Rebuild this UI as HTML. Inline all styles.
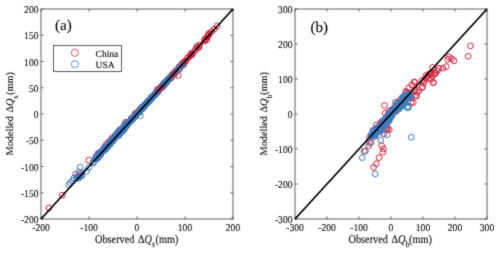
<!DOCTYPE html>
<html><head><meta charset="utf-8"><style>
html,body{margin:0;padding:0;background:#fff;width:500px;height:253px;overflow:hidden}
svg{display:block}
text{font-family:"Liberation Serif",serif;fill:#111;stroke:#111;stroke-width:0.12px;text-rendering:geometricPrecision}
.tk{font-size:9.6px}
.lb{font-size:10.3px}
.pl{font-size:15px;fill:#000}
.lg{font-size:9.5px;fill:#000;stroke:#000;stroke-width:0.1px}
</style></head><body>
<svg width="500" height="253" viewBox="0 0 500 253" stroke-width="1" fill="none">
<defs><filter id="bl" x="0" y="0" width="1" height="1" color-interpolation-filters="sRGB"><feConvolveMatrix order="3" kernelMatrix="1 2 1 2 20 2 1 2 1" divisor="32" edgeMode="duplicate"/></filter><clipPath id="ca"><rect x="41" y="9" width="192" height="210"/></clipPath><clipPath id="cb"><rect x="295" y="9" width="192" height="210"/></clipPath></defs>
<g filter="url(#bl)"><rect x="0" y="0" width="500" height="253" fill="#fff"/>
<path d="M41 219.00h2.5M233 219.00h-2.5" stroke="#5a5a5a"/>
<text transform="translate(38.5,223.00) scale(1,1.08)" text-anchor="end" class="tk">-200</text>
<path d="M41 192.75h2.5M233 192.75h-2.5" stroke="#5a5a5a"/>
<text transform="translate(38.5,196.75) scale(1,1.08)" text-anchor="end" class="tk">-150</text>
<path d="M41 166.50h2.5M233 166.50h-2.5" stroke="#5a5a5a"/>
<text transform="translate(38.5,170.50) scale(1,1.08)" text-anchor="end" class="tk">-100</text>
<path d="M41 140.25h2.5M233 140.25h-2.5" stroke="#5a5a5a"/>
<text transform="translate(38.5,144.25) scale(1,1.08)" text-anchor="end" class="tk">-50</text>
<path d="M41 114.00h2.5M233 114.00h-2.5" stroke="#5a5a5a"/>
<text transform="translate(38.5,118.00) scale(1,1.08)" text-anchor="end" class="tk">0</text>
<path d="M41 87.75h2.5M233 87.75h-2.5" stroke="#5a5a5a"/>
<text transform="translate(38.5,91.75) scale(1,1.08)" text-anchor="end" class="tk">50</text>
<path d="M41 61.50h2.5M233 61.50h-2.5" stroke="#5a5a5a"/>
<text transform="translate(38.5,65.50) scale(1,1.08)" text-anchor="end" class="tk">100</text>
<path d="M41 35.25h2.5M233 35.25h-2.5" stroke="#5a5a5a"/>
<text transform="translate(38.5,39.25) scale(1,1.08)" text-anchor="end" class="tk">150</text>
<path d="M41 9.00h2.5M233 9.00h-2.5" stroke="#5a5a5a"/>
<text transform="translate(38.5,13.00) scale(1,1.08)" text-anchor="end" class="tk">200</text>
<path d="M41.00 219v-2.5M41.00 9v2.5" stroke="#5a5a5a"/>
<text transform="translate(41.00,231) scale(1,1.08)" text-anchor="middle" class="tk">-200</text>
<path d="M89.00 219v-2.5M89.00 9v2.5" stroke="#5a5a5a"/>
<text transform="translate(89.00,231) scale(1,1.08)" text-anchor="middle" class="tk">-100</text>
<path d="M137.00 219v-2.5M137.00 9v2.5" stroke="#5a5a5a"/>
<text transform="translate(137.00,231) scale(1,1.08)" text-anchor="middle" class="tk">0</text>
<path d="M185.00 219v-2.5M185.00 9v2.5" stroke="#5a5a5a"/>
<text transform="translate(185.00,231) scale(1,1.08)" text-anchor="middle" class="tk">100</text>
<path d="M233.00 219v-2.5M233.00 9v2.5" stroke="#5a5a5a"/>
<text transform="translate(233.00,231) scale(1,1.08)" text-anchor="middle" class="tk">200</text>
<rect x="41" y="9" width="192" height="210" fill="none" stroke="#5a5a5a" stroke-width="0.95"/>
<path d="M295 219.00h2.5M487 219.00h-2.5" stroke="#5a5a5a"/>
<text transform="translate(292.5,223.00) scale(1,1.08)" text-anchor="end" class="tk">-300</text>
<path d="M295 184.00h2.5M487 184.00h-2.5" stroke="#5a5a5a"/>
<text transform="translate(292.5,188.00) scale(1,1.08)" text-anchor="end" class="tk">-200</text>
<path d="M295 149.00h2.5M487 149.00h-2.5" stroke="#5a5a5a"/>
<text transform="translate(292.5,153.00) scale(1,1.08)" text-anchor="end" class="tk">-100</text>
<path d="M295 114.00h2.5M487 114.00h-2.5" stroke="#5a5a5a"/>
<text transform="translate(292.5,118.00) scale(1,1.08)" text-anchor="end" class="tk">0</text>
<path d="M295 79.00h2.5M487 79.00h-2.5" stroke="#5a5a5a"/>
<text transform="translate(292.5,83.00) scale(1,1.08)" text-anchor="end" class="tk">100</text>
<path d="M295 44.00h2.5M487 44.00h-2.5" stroke="#5a5a5a"/>
<text transform="translate(292.5,48.00) scale(1,1.08)" text-anchor="end" class="tk">200</text>
<path d="M295 9.00h2.5M487 9.00h-2.5" stroke="#5a5a5a"/>
<text transform="translate(292.5,13.00) scale(1,1.08)" text-anchor="end" class="tk">300</text>
<path d="M295.00 219v-2.5M295.00 9v2.5" stroke="#5a5a5a"/>
<text transform="translate(295.00,231) scale(1,1.08)" text-anchor="middle" class="tk">-300</text>
<path d="M327.00 219v-2.5M327.00 9v2.5" stroke="#5a5a5a"/>
<text transform="translate(327.00,231) scale(1,1.08)" text-anchor="middle" class="tk">-200</text>
<path d="M359.00 219v-2.5M359.00 9v2.5" stroke="#5a5a5a"/>
<text transform="translate(359.00,231) scale(1,1.08)" text-anchor="middle" class="tk">-100</text>
<path d="M391.00 219v-2.5M391.00 9v2.5" stroke="#5a5a5a"/>
<text transform="translate(391.00,231) scale(1,1.08)" text-anchor="middle" class="tk">0</text>
<path d="M423.00 219v-2.5M423.00 9v2.5" stroke="#5a5a5a"/>
<text transform="translate(423.00,231) scale(1,1.08)" text-anchor="middle" class="tk">100</text>
<path d="M455.00 219v-2.5M455.00 9v2.5" stroke="#5a5a5a"/>
<text transform="translate(455.00,231) scale(1,1.08)" text-anchor="middle" class="tk">200</text>
<path d="M487.00 219v-2.5M487.00 9v2.5" stroke="#5a5a5a"/>
<text transform="translate(487.00,231) scale(1,1.08)" text-anchor="middle" class="tk">300</text>
<rect x="295" y="9" width="192" height="210" fill="none" stroke="#5a5a5a" stroke-width="0.95"/>
<g clip-path="url(#ca)"><path d="M51.8 207.9a2.9 2.9 0 1 0 -5.8 0a2.9 2.9 0 1 0 5.8 0M65.1 195.2a2.9 2.9 0 1 0 -5.8 0a2.9 2.9 0 1 0 5.8 0M78.9 174.2a2.9 2.9 0 1 0 -5.8 0a2.9 2.9 0 1 0 5.8 0M83.8 173.5a2.9 2.9 0 1 0 -5.8 0a2.9 2.9 0 1 0 5.8 0M91.7 160.2a2.9 2.9 0 1 0 -5.8 0a2.9 2.9 0 1 0 5.8 0M181.1 75.5a2.9 2.9 0 1 0 -5.8 0a2.9 2.9 0 1 0 5.8 0M220.1 25.9a2.9 2.9 0 1 0 -5.8 0a2.9 2.9 0 1 0 5.8 0M217.0 29.2a2.9 2.9 0 1 0 -5.8 0a2.9 2.9 0 1 0 5.8 0M214.6 31.7a2.9 2.9 0 1 0 -5.8 0a2.9 2.9 0 1 0 5.8 0M212.1 34.2a2.9 2.9 0 1 0 -5.8 0a2.9 2.9 0 1 0 5.8 0M114.4 139.8a2.9 2.9 0 1 0 -5.8 0a2.9 2.9 0 1 0 5.8 0M100.7 153.7a2.9 2.9 0 1 0 -5.8 0a2.9 2.9 0 1 0 5.8 0M122.6 129.7a2.9 2.9 0 1 0 -5.8 0a2.9 2.9 0 1 0 5.8 0M99.7 156.0a2.9 2.9 0 1 0 -5.8 0a2.9 2.9 0 1 0 5.8 0M112.3 141.5a2.9 2.9 0 1 0 -5.8 0a2.9 2.9 0 1 0 5.8 0M127.6 124.2a2.9 2.9 0 1 0 -5.8 0a2.9 2.9 0 1 0 5.8 0M128.8 122.2a2.9 2.9 0 1 0 -5.8 0a2.9 2.9 0 1 0 5.8 0M115.1 138.0a2.9 2.9 0 1 0 -5.8 0a2.9 2.9 0 1 0 5.8 0M107.3 147.0a2.9 2.9 0 1 0 -5.8 0a2.9 2.9 0 1 0 5.8 0M109.5 143.6a2.9 2.9 0 1 0 -5.8 0a2.9 2.9 0 1 0 5.8 0M118.3 135.0a2.9 2.9 0 1 0 -5.8 0a2.9 2.9 0 1 0 5.8 0M121.3 131.8a2.9 2.9 0 1 0 -5.8 0a2.9 2.9 0 1 0 5.8 0M142.0 110.8a2.9 2.9 0 1 0 -5.8 0a2.9 2.9 0 1 0 5.8 0M144.4 107.5a2.9 2.9 0 1 0 -5.8 0a2.9 2.9 0 1 0 5.8 0M143.4 109.0a2.9 2.9 0 1 0 -5.8 0a2.9 2.9 0 1 0 5.8 0M150.7 101.1a2.9 2.9 0 1 0 -5.8 0a2.9 2.9 0 1 0 5.8 0M130.6 122.9a2.9 2.9 0 1 0 -5.8 0a2.9 2.9 0 1 0 5.8 0M134.5 118.0a2.9 2.9 0 1 0 -5.8 0a2.9 2.9 0 1 0 5.8 0M154.1 97.3a2.9 2.9 0 1 0 -5.8 0a2.9 2.9 0 1 0 5.8 0M160.3 89.3a2.9 2.9 0 1 0 -5.8 0a2.9 2.9 0 1 0 5.8 0M137.9 113.9a2.9 2.9 0 1 0 -5.8 0a2.9 2.9 0 1 0 5.8 0M151.9 100.1a2.9 2.9 0 1 0 -5.8 0a2.9 2.9 0 1 0 5.8 0M131.4 122.6a2.9 2.9 0 1 0 -5.8 0a2.9 2.9 0 1 0 5.8 0M139.5 112.7a2.9 2.9 0 1 0 -5.8 0a2.9 2.9 0 1 0 5.8 0M186.3 64.8a2.9 2.9 0 1 0 -5.8 0a2.9 2.9 0 1 0 5.8 0M186.4 63.6a2.9 2.9 0 1 0 -5.8 0a2.9 2.9 0 1 0 5.8 0M188.4 61.2a2.9 2.9 0 1 0 -5.8 0a2.9 2.9 0 1 0 5.8 0M188.6 60.9a2.9 2.9 0 1 0 -5.8 0a2.9 2.9 0 1 0 5.8 0M194.3 54.3a2.9 2.9 0 1 0 -5.8 0a2.9 2.9 0 1 0 5.8 0M178.2 72.3a2.9 2.9 0 1 0 -5.8 0a2.9 2.9 0 1 0 5.8 0M167.1 83.6a2.9 2.9 0 1 0 -5.8 0a2.9 2.9 0 1 0 5.8 0M165.5 87.0a2.9 2.9 0 1 0 -5.8 0a2.9 2.9 0 1 0 5.8 0M211.4 34.5a2.9 2.9 0 1 0 -5.8 0a2.9 2.9 0 1 0 5.8 0M193.7 55.2a2.9 2.9 0 1 0 -5.8 0a2.9 2.9 0 1 0 5.8 0M170.2 79.7a2.9 2.9 0 1 0 -5.8 0a2.9 2.9 0 1 0 5.8 0M165.8 85.5a2.9 2.9 0 1 0 -5.8 0a2.9 2.9 0 1 0 5.8 0M172.3 78.4a2.9 2.9 0 1 0 -5.8 0a2.9 2.9 0 1 0 5.8 0M185.9 63.3a2.9 2.9 0 1 0 -5.8 0a2.9 2.9 0 1 0 5.8 0M184.6 64.4a2.9 2.9 0 1 0 -5.8 0a2.9 2.9 0 1 0 5.8 0M195.3 54.1a2.9 2.9 0 1 0 -5.8 0a2.9 2.9 0 1 0 5.8 0M188.0 61.7a2.9 2.9 0 1 0 -5.8 0a2.9 2.9 0 1 0 5.8 0M177.1 73.9a2.9 2.9 0 1 0 -5.8 0a2.9 2.9 0 1 0 5.8 0M211.9 33.5a2.9 2.9 0 1 0 -5.8 0a2.9 2.9 0 1 0 5.8 0M198.2 50.1a2.9 2.9 0 1 0 -5.8 0a2.9 2.9 0 1 0 5.8 0M178.5 71.5a2.9 2.9 0 1 0 -5.8 0a2.9 2.9 0 1 0 5.8 0M166.0 84.6a2.9 2.9 0 1 0 -5.8 0a2.9 2.9 0 1 0 5.8 0M201.8 47.5a2.9 2.9 0 1 0 -5.8 0a2.9 2.9 0 1 0 5.8 0M181.7 67.2a2.9 2.9 0 1 0 -5.8 0a2.9 2.9 0 1 0 5.8 0M210.7 36.4a2.9 2.9 0 1 0 -5.8 0a2.9 2.9 0 1 0 5.8 0M173.3 77.3a2.9 2.9 0 1 0 -5.8 0a2.9 2.9 0 1 0 5.8 0M209.5 40.0a2.9 2.9 0 1 0 -5.8 0a2.9 2.9 0 1 0 5.8 0M182.5 66.8a2.9 2.9 0 1 0 -5.8 0a2.9 2.9 0 1 0 5.8 0M167.0 85.2a2.9 2.9 0 1 0 -5.8 0a2.9 2.9 0 1 0 5.8 0M176.8 74.5a2.9 2.9 0 1 0 -5.8 0a2.9 2.9 0 1 0 5.8 0M167.7 84.5a2.9 2.9 0 1 0 -5.8 0a2.9 2.9 0 1 0 5.8 0M199.8 46.5a2.9 2.9 0 1 0 -5.8 0a2.9 2.9 0 1 0 5.8 0M168.7 82.3a2.9 2.9 0 1 0 -5.8 0a2.9 2.9 0 1 0 5.8 0M165.6 85.3a2.9 2.9 0 1 0 -5.8 0a2.9 2.9 0 1 0 5.8 0M202.4 45.0a2.9 2.9 0 1 0 -5.8 0a2.9 2.9 0 1 0 5.8 0M184.7 63.9a2.9 2.9 0 1 0 -5.8 0a2.9 2.9 0 1 0 5.8 0M172.4 78.4a2.9 2.9 0 1 0 -5.8 0a2.9 2.9 0 1 0 5.8 0M195.2 53.8a2.9 2.9 0 1 0 -5.8 0a2.9 2.9 0 1 0 5.8 0M168.9 82.6a2.9 2.9 0 1 0 -5.8 0a2.9 2.9 0 1 0 5.8 0M176.2 73.9a2.9 2.9 0 1 0 -5.8 0a2.9 2.9 0 1 0 5.8 0M211.3 35.6a2.9 2.9 0 1 0 -5.8 0a2.9 2.9 0 1 0 5.8 0M207.4 40.7a2.9 2.9 0 1 0 -5.8 0a2.9 2.9 0 1 0 5.8 0M174.0 77.8a2.9 2.9 0 1 0 -5.8 0a2.9 2.9 0 1 0 5.8 0M194.4 53.2a2.9 2.9 0 1 0 -5.8 0a2.9 2.9 0 1 0 5.8 0M167.6 83.0a2.9 2.9 0 1 0 -5.8 0a2.9 2.9 0 1 0 5.8 0M175.8 74.7a2.9 2.9 0 1 0 -5.8 0a2.9 2.9 0 1 0 5.8 0M201.6 46.7a2.9 2.9 0 1 0 -5.8 0a2.9 2.9 0 1 0 5.8 0M166.2 84.5a2.9 2.9 0 1 0 -5.8 0a2.9 2.9 0 1 0 5.8 0M167.6 84.1a2.9 2.9 0 1 0 -5.8 0a2.9 2.9 0 1 0 5.8 0M193.0 56.0a2.9 2.9 0 1 0 -5.8 0a2.9 2.9 0 1 0 5.8 0M182.4 69.3a2.9 2.9 0 1 0 -5.8 0a2.9 2.9 0 1 0 5.8 0M186.7 62.1a2.9 2.9 0 1 0 -5.8 0a2.9 2.9 0 1 0 5.8 0M191.4 57.2a2.9 2.9 0 1 0 -5.8 0a2.9 2.9 0 1 0 5.8 0M170.7 80.5a2.9 2.9 0 1 0 -5.8 0a2.9 2.9 0 1 0 5.8 0M208.1 39.0a2.9 2.9 0 1 0 -5.8 0a2.9 2.9 0 1 0 5.8 0M172.6 78.7a2.9 2.9 0 1 0 -5.8 0a2.9 2.9 0 1 0 5.8 0M199.5 48.1a2.9 2.9 0 1 0 -5.8 0a2.9 2.9 0 1 0 5.8 0M210.4 36.9a2.9 2.9 0 1 0 -5.8 0a2.9 2.9 0 1 0 5.8 0M207.3 40.8a2.9 2.9 0 1 0 -5.8 0a2.9 2.9 0 1 0 5.8 0M168.3 83.3a2.9 2.9 0 1 0 -5.8 0a2.9 2.9 0 1 0 5.8 0M164.5 86.4a2.9 2.9 0 1 0 -5.8 0a2.9 2.9 0 1 0 5.8 0M198.1 50.3a2.9 2.9 0 1 0 -5.8 0a2.9 2.9 0 1 0 5.8 0M175.4 74.5a2.9 2.9 0 1 0 -5.8 0a2.9 2.9 0 1 0 5.8 0M178.0 73.2a2.9 2.9 0 1 0 -5.8 0a2.9 2.9 0 1 0 5.8 0M171.6 79.2a2.9 2.9 0 1 0 -5.8 0a2.9 2.9 0 1 0 5.8 0M174.4 76.4a2.9 2.9 0 1 0 -5.8 0a2.9 2.9 0 1 0 5.8 0M190.5 57.9a2.9 2.9 0 1 0 -5.8 0a2.9 2.9 0 1 0 5.8 0M177.3 73.9a2.9 2.9 0 1 0 -5.8 0a2.9 2.9 0 1 0 5.8 0M208.7 38.6a2.9 2.9 0 1 0 -5.8 0a2.9 2.9 0 1 0 5.8 0M176.2 74.0a2.9 2.9 0 1 0 -5.8 0a2.9 2.9 0 1 0 5.8 0" fill="none" stroke="#d2243f" stroke-width="1.0"/><path d="M83.1 167.1a2.9 2.9 0 1 0 -5.8 0a2.9 2.9 0 1 0 5.8 0M73.2 182.7a2.9 2.9 0 1 0 -5.8 0a2.9 2.9 0 1 0 5.8 0M75.3 180.6a2.9 2.9 0 1 0 -5.8 0a2.9 2.9 0 1 0 5.8 0M71.7 184.9a2.9 2.9 0 1 0 -5.8 0a2.9 2.9 0 1 0 5.8 0M79.6 177.7a2.9 2.9 0 1 0 -5.8 0a2.9 2.9 0 1 0 5.8 0M143.3 115.6a2.9 2.9 0 1 0 -5.8 0a2.9 2.9 0 1 0 5.8 0M76.9 178.0a2.9 2.9 0 1 0 -5.8 0a2.9 2.9 0 1 0 5.8 0M81.9 172.0a2.9 2.9 0 1 0 -5.8 0a2.9 2.9 0 1 0 5.8 0M91.7 167.5a2.9 2.9 0 1 0 -5.8 0a2.9 2.9 0 1 0 5.8 0M84.7 175.7a2.9 2.9 0 1 0 -5.8 0a2.9 2.9 0 1 0 5.8 0M81.3 178.4a2.9 2.9 0 1 0 -5.8 0a2.9 2.9 0 1 0 5.8 0M98.1 158.4a2.9 2.9 0 1 0 -5.8 0a2.9 2.9 0 1 0 5.8 0M96.6 162.4a2.9 2.9 0 1 0 -5.8 0a2.9 2.9 0 1 0 5.8 0M95.8 162.9a2.9 2.9 0 1 0 -5.8 0a2.9 2.9 0 1 0 5.8 0M84.3 175.2a2.9 2.9 0 1 0 -5.8 0a2.9 2.9 0 1 0 5.8 0M100.4 156.4a2.9 2.9 0 1 0 -5.8 0a2.9 2.9 0 1 0 5.8 0M81.9 176.8a2.9 2.9 0 1 0 -5.8 0a2.9 2.9 0 1 0 5.8 0M96.1 162.0a2.9 2.9 0 1 0 -5.8 0a2.9 2.9 0 1 0 5.8 0M89.3 171.3a2.9 2.9 0 1 0 -5.8 0a2.9 2.9 0 1 0 5.8 0M80.3 177.1a2.9 2.9 0 1 0 -5.8 0a2.9 2.9 0 1 0 5.8 0M81.3 176.2a2.9 2.9 0 1 0 -5.8 0a2.9 2.9 0 1 0 5.8 0M83.1 176.5a2.9 2.9 0 1 0 -5.8 0a2.9 2.9 0 1 0 5.8 0M107.1 149.7a2.9 2.9 0 1 0 -5.8 0a2.9 2.9 0 1 0 5.8 0M126.4 129.4a2.9 2.9 0 1 0 -5.8 0a2.9 2.9 0 1 0 5.8 0M104.5 152.0a2.9 2.9 0 1 0 -5.8 0a2.9 2.9 0 1 0 5.8 0M105.5 150.4a2.9 2.9 0 1 0 -5.8 0a2.9 2.9 0 1 0 5.8 0M121.7 132.5a2.9 2.9 0 1 0 -5.8 0a2.9 2.9 0 1 0 5.8 0M105.0 150.7a2.9 2.9 0 1 0 -5.8 0a2.9 2.9 0 1 0 5.8 0M108.8 148.9a2.9 2.9 0 1 0 -5.8 0a2.9 2.9 0 1 0 5.8 0M117.7 136.9a2.9 2.9 0 1 0 -5.8 0a2.9 2.9 0 1 0 5.8 0M99.1 158.1a2.9 2.9 0 1 0 -5.8 0a2.9 2.9 0 1 0 5.8 0M126.2 127.8a2.9 2.9 0 1 0 -5.8 0a2.9 2.9 0 1 0 5.8 0M124.2 129.9a2.9 2.9 0 1 0 -5.8 0a2.9 2.9 0 1 0 5.8 0M123.2 133.2a2.9 2.9 0 1 0 -5.8 0a2.9 2.9 0 1 0 5.8 0M128.9 125.2a2.9 2.9 0 1 0 -5.8 0a2.9 2.9 0 1 0 5.8 0M126.1 129.1a2.9 2.9 0 1 0 -5.8 0a2.9 2.9 0 1 0 5.8 0M114.1 141.5a2.9 2.9 0 1 0 -5.8 0a2.9 2.9 0 1 0 5.8 0M112.9 144.0a2.9 2.9 0 1 0 -5.8 0a2.9 2.9 0 1 0 5.8 0M110.6 146.1a2.9 2.9 0 1 0 -5.8 0a2.9 2.9 0 1 0 5.8 0M102.2 154.3a2.9 2.9 0 1 0 -5.8 0a2.9 2.9 0 1 0 5.8 0M124.4 129.5a2.9 2.9 0 1 0 -5.8 0a2.9 2.9 0 1 0 5.8 0M121.9 135.5a2.9 2.9 0 1 0 -5.8 0a2.9 2.9 0 1 0 5.8 0M116.3 139.1a2.9 2.9 0 1 0 -5.8 0a2.9 2.9 0 1 0 5.8 0M120.5 135.1a2.9 2.9 0 1 0 -5.8 0a2.9 2.9 0 1 0 5.8 0M112.6 142.9a2.9 2.9 0 1 0 -5.8 0a2.9 2.9 0 1 0 5.8 0M115.0 140.0a2.9 2.9 0 1 0 -5.8 0a2.9 2.9 0 1 0 5.8 0M107.3 150.2a2.9 2.9 0 1 0 -5.8 0a2.9 2.9 0 1 0 5.8 0M111.1 144.5a2.9 2.9 0 1 0 -5.8 0a2.9 2.9 0 1 0 5.8 0M103.1 154.3a2.9 2.9 0 1 0 -5.8 0a2.9 2.9 0 1 0 5.8 0M106.1 150.3a2.9 2.9 0 1 0 -5.8 0a2.9 2.9 0 1 0 5.8 0M104.9 151.8a2.9 2.9 0 1 0 -5.8 0a2.9 2.9 0 1 0 5.8 0M119.3 135.6a2.9 2.9 0 1 0 -5.8 0a2.9 2.9 0 1 0 5.8 0M129.6 125.7a2.9 2.9 0 1 0 -5.8 0a2.9 2.9 0 1 0 5.8 0M128.0 125.5a2.9 2.9 0 1 0 -5.8 0a2.9 2.9 0 1 0 5.8 0M99.4 156.6a2.9 2.9 0 1 0 -5.8 0a2.9 2.9 0 1 0 5.8 0M124.8 128.6a2.9 2.9 0 1 0 -5.8 0a2.9 2.9 0 1 0 5.8 0M118.8 135.9a2.9 2.9 0 1 0 -5.8 0a2.9 2.9 0 1 0 5.8 0M126.0 127.8a2.9 2.9 0 1 0 -5.8 0a2.9 2.9 0 1 0 5.8 0M126.8 127.4a2.9 2.9 0 1 0 -5.8 0a2.9 2.9 0 1 0 5.8 0M126.2 128.9a2.9 2.9 0 1 0 -5.8 0a2.9 2.9 0 1 0 5.8 0M110.6 145.5a2.9 2.9 0 1 0 -5.8 0a2.9 2.9 0 1 0 5.8 0M129.9 124.8a2.9 2.9 0 1 0 -5.8 0a2.9 2.9 0 1 0 5.8 0M117.9 137.5a2.9 2.9 0 1 0 -5.8 0a2.9 2.9 0 1 0 5.8 0M118.6 137.2a2.9 2.9 0 1 0 -5.8 0a2.9 2.9 0 1 0 5.8 0M117.5 138.5a2.9 2.9 0 1 0 -5.8 0a2.9 2.9 0 1 0 5.8 0M122.1 133.3a2.9 2.9 0 1 0 -5.8 0a2.9 2.9 0 1 0 5.8 0M109.6 146.7a2.9 2.9 0 1 0 -5.8 0a2.9 2.9 0 1 0 5.8 0M120.2 134.4a2.9 2.9 0 1 0 -5.8 0a2.9 2.9 0 1 0 5.8 0M102.1 154.6a2.9 2.9 0 1 0 -5.8 0a2.9 2.9 0 1 0 5.8 0M119.0 135.9a2.9 2.9 0 1 0 -5.8 0a2.9 2.9 0 1 0 5.8 0M116.5 139.2a2.9 2.9 0 1 0 -5.8 0a2.9 2.9 0 1 0 5.8 0M112.7 143.2a2.9 2.9 0 1 0 -5.8 0a2.9 2.9 0 1 0 5.8 0M109.5 146.5a2.9 2.9 0 1 0 -5.8 0a2.9 2.9 0 1 0 5.8 0M130.5 123.6a2.9 2.9 0 1 0 -5.8 0a2.9 2.9 0 1 0 5.8 0M102.6 154.4a2.9 2.9 0 1 0 -5.8 0a2.9 2.9 0 1 0 5.8 0M117.3 137.3a2.9 2.9 0 1 0 -5.8 0a2.9 2.9 0 1 0 5.8 0M101.5 156.2a2.9 2.9 0 1 0 -5.8 0a2.9 2.9 0 1 0 5.8 0M125.2 129.3a2.9 2.9 0 1 0 -5.8 0a2.9 2.9 0 1 0 5.8 0M99.0 158.6a2.9 2.9 0 1 0 -5.8 0a2.9 2.9 0 1 0 5.8 0M129.2 124.2a2.9 2.9 0 1 0 -5.8 0a2.9 2.9 0 1 0 5.8 0M115.8 141.1a2.9 2.9 0 1 0 -5.8 0a2.9 2.9 0 1 0 5.8 0M108.0 148.1a2.9 2.9 0 1 0 -5.8 0a2.9 2.9 0 1 0 5.8 0M100.6 158.3a2.9 2.9 0 1 0 -5.8 0a2.9 2.9 0 1 0 5.8 0M122.2 132.7a2.9 2.9 0 1 0 -5.8 0a2.9 2.9 0 1 0 5.8 0M107.2 149.8a2.9 2.9 0 1 0 -5.8 0a2.9 2.9 0 1 0 5.8 0M107.6 150.2a2.9 2.9 0 1 0 -5.8 0a2.9 2.9 0 1 0 5.8 0M117.6 138.1a2.9 2.9 0 1 0 -5.8 0a2.9 2.9 0 1 0 5.8 0M107.5 148.2a2.9 2.9 0 1 0 -5.8 0a2.9 2.9 0 1 0 5.8 0M105.2 151.5a2.9 2.9 0 1 0 -5.8 0a2.9 2.9 0 1 0 5.8 0M111.2 144.5a2.9 2.9 0 1 0 -5.8 0a2.9 2.9 0 1 0 5.8 0M101.3 155.5a2.9 2.9 0 1 0 -5.8 0a2.9 2.9 0 1 0 5.8 0M99.3 158.9a2.9 2.9 0 1 0 -5.8 0a2.9 2.9 0 1 0 5.8 0M123.1 131.3a2.9 2.9 0 1 0 -5.8 0a2.9 2.9 0 1 0 5.8 0M115.8 138.7a2.9 2.9 0 1 0 -5.8 0a2.9 2.9 0 1 0 5.8 0M109.3 147.0a2.9 2.9 0 1 0 -5.8 0a2.9 2.9 0 1 0 5.8 0M102.5 153.3a2.9 2.9 0 1 0 -5.8 0a2.9 2.9 0 1 0 5.8 0M125.6 127.7a2.9 2.9 0 1 0 -5.8 0a2.9 2.9 0 1 0 5.8 0M105.0 150.4a2.9 2.9 0 1 0 -5.8 0a2.9 2.9 0 1 0 5.8 0M108.4 148.0a2.9 2.9 0 1 0 -5.8 0a2.9 2.9 0 1 0 5.8 0M102.6 154.0a2.9 2.9 0 1 0 -5.8 0a2.9 2.9 0 1 0 5.8 0M111.0 146.7a2.9 2.9 0 1 0 -5.8 0a2.9 2.9 0 1 0 5.8 0M129.9 123.6a2.9 2.9 0 1 0 -5.8 0a2.9 2.9 0 1 0 5.8 0M100.2 157.2a2.9 2.9 0 1 0 -5.8 0a2.9 2.9 0 1 0 5.8 0M124.3 130.5a2.9 2.9 0 1 0 -5.8 0a2.9 2.9 0 1 0 5.8 0M108.5 146.8a2.9 2.9 0 1 0 -5.8 0a2.9 2.9 0 1 0 5.8 0M102.9 154.5a2.9 2.9 0 1 0 -5.8 0a2.9 2.9 0 1 0 5.8 0M98.7 158.4a2.9 2.9 0 1 0 -5.8 0a2.9 2.9 0 1 0 5.8 0M102.5 152.5a2.9 2.9 0 1 0 -5.8 0a2.9 2.9 0 1 0 5.8 0M114.2 142.0a2.9 2.9 0 1 0 -5.8 0a2.9 2.9 0 1 0 5.8 0M123.9 130.2a2.9 2.9 0 1 0 -5.8 0a2.9 2.9 0 1 0 5.8 0M105.5 151.2a2.9 2.9 0 1 0 -5.8 0a2.9 2.9 0 1 0 5.8 0M129.1 126.4a2.9 2.9 0 1 0 -5.8 0a2.9 2.9 0 1 0 5.8 0M114.8 140.0a2.9 2.9 0 1 0 -5.8 0a2.9 2.9 0 1 0 5.8 0M117.1 138.7a2.9 2.9 0 1 0 -5.8 0a2.9 2.9 0 1 0 5.8 0M117.9 136.4a2.9 2.9 0 1 0 -5.8 0a2.9 2.9 0 1 0 5.8 0M103.1 155.2a2.9 2.9 0 1 0 -5.8 0a2.9 2.9 0 1 0 5.8 0M103.7 154.5a2.9 2.9 0 1 0 -5.8 0a2.9 2.9 0 1 0 5.8 0M115.8 140.0a2.9 2.9 0 1 0 -5.8 0a2.9 2.9 0 1 0 5.8 0M107.8 147.7a2.9 2.9 0 1 0 -5.8 0a2.9 2.9 0 1 0 5.8 0M101.4 155.6a2.9 2.9 0 1 0 -5.8 0a2.9 2.9 0 1 0 5.8 0M99.5 156.1a2.9 2.9 0 1 0 -5.8 0a2.9 2.9 0 1 0 5.8 0M101.9 154.7a2.9 2.9 0 1 0 -5.8 0a2.9 2.9 0 1 0 5.8 0M120.3 132.4a2.9 2.9 0 1 0 -5.8 0a2.9 2.9 0 1 0 5.8 0M125.8 131.4a2.9 2.9 0 1 0 -5.8 0a2.9 2.9 0 1 0 5.8 0M112.8 144.2a2.9 2.9 0 1 0 -5.8 0a2.9 2.9 0 1 0 5.8 0M122.1 134.0a2.9 2.9 0 1 0 -5.8 0a2.9 2.9 0 1 0 5.8 0M107.8 148.4a2.9 2.9 0 1 0 -5.8 0a2.9 2.9 0 1 0 5.8 0M108.7 147.9a2.9 2.9 0 1 0 -5.8 0a2.9 2.9 0 1 0 5.8 0M130.8 124.0a2.9 2.9 0 1 0 -5.8 0a2.9 2.9 0 1 0 5.8 0M123.6 131.0a2.9 2.9 0 1 0 -5.8 0a2.9 2.9 0 1 0 5.8 0M112.9 142.7a2.9 2.9 0 1 0 -5.8 0a2.9 2.9 0 1 0 5.8 0M106.9 149.5a2.9 2.9 0 1 0 -5.8 0a2.9 2.9 0 1 0 5.8 0M108.9 146.6a2.9 2.9 0 1 0 -5.8 0a2.9 2.9 0 1 0 5.8 0M125.9 128.9a2.9 2.9 0 1 0 -5.8 0a2.9 2.9 0 1 0 5.8 0M127.1 129.8a2.9 2.9 0 1 0 -5.8 0a2.9 2.9 0 1 0 5.8 0M122.2 131.2a2.9 2.9 0 1 0 -5.8 0a2.9 2.9 0 1 0 5.8 0M114.1 141.6a2.9 2.9 0 1 0 -5.8 0a2.9 2.9 0 1 0 5.8 0M126.9 126.5a2.9 2.9 0 1 0 -5.8 0a2.9 2.9 0 1 0 5.8 0M115.6 139.6a2.9 2.9 0 1 0 -5.8 0a2.9 2.9 0 1 0 5.8 0M113.4 141.5a2.9 2.9 0 1 0 -5.8 0a2.9 2.9 0 1 0 5.8 0M104.8 152.0a2.9 2.9 0 1 0 -5.8 0a2.9 2.9 0 1 0 5.8 0M124.9 129.8a2.9 2.9 0 1 0 -5.8 0a2.9 2.9 0 1 0 5.8 0M103.8 151.9a2.9 2.9 0 1 0 -5.8 0a2.9 2.9 0 1 0 5.8 0M108.0 147.5a2.9 2.9 0 1 0 -5.8 0a2.9 2.9 0 1 0 5.8 0M127.4 128.1a2.9 2.9 0 1 0 -5.8 0a2.9 2.9 0 1 0 5.8 0M125.3 129.3a2.9 2.9 0 1 0 -5.8 0a2.9 2.9 0 1 0 5.8 0M105.4 151.1a2.9 2.9 0 1 0 -5.8 0a2.9 2.9 0 1 0 5.8 0M112.9 144.1a2.9 2.9 0 1 0 -5.8 0a2.9 2.9 0 1 0 5.8 0M128.4 124.2a2.9 2.9 0 1 0 -5.8 0a2.9 2.9 0 1 0 5.8 0M103.0 153.4a2.9 2.9 0 1 0 -5.8 0a2.9 2.9 0 1 0 5.8 0M125.4 129.1a2.9 2.9 0 1 0 -5.8 0a2.9 2.9 0 1 0 5.8 0M114.5 140.9a2.9 2.9 0 1 0 -5.8 0a2.9 2.9 0 1 0 5.8 0M167.1 83.4a2.9 2.9 0 1 0 -5.8 0a2.9 2.9 0 1 0 5.8 0M135.1 119.0a2.9 2.9 0 1 0 -5.8 0a2.9 2.9 0 1 0 5.8 0M167.8 82.4a2.9 2.9 0 1 0 -5.8 0a2.9 2.9 0 1 0 5.8 0M156.0 96.1a2.9 2.9 0 1 0 -5.8 0a2.9 2.9 0 1 0 5.8 0M163.0 88.3a2.9 2.9 0 1 0 -5.8 0a2.9 2.9 0 1 0 5.8 0M142.3 111.2a2.9 2.9 0 1 0 -5.8 0a2.9 2.9 0 1 0 5.8 0M157.2 95.0a2.9 2.9 0 1 0 -5.8 0a2.9 2.9 0 1 0 5.8 0M137.8 115.8a2.9 2.9 0 1 0 -5.8 0a2.9 2.9 0 1 0 5.8 0M162.9 88.2a2.9 2.9 0 1 0 -5.8 0a2.9 2.9 0 1 0 5.8 0M138.0 116.4a2.9 2.9 0 1 0 -5.8 0a2.9 2.9 0 1 0 5.8 0M166.0 85.6a2.9 2.9 0 1 0 -5.8 0a2.9 2.9 0 1 0 5.8 0M147.1 106.0a2.9 2.9 0 1 0 -5.8 0a2.9 2.9 0 1 0 5.8 0M145.4 107.4a2.9 2.9 0 1 0 -5.8 0a2.9 2.9 0 1 0 5.8 0M143.1 110.1a2.9 2.9 0 1 0 -5.8 0a2.9 2.9 0 1 0 5.8 0M151.3 100.8a2.9 2.9 0 1 0 -5.8 0a2.9 2.9 0 1 0 5.8 0M145.2 108.4a2.9 2.9 0 1 0 -5.8 0a2.9 2.9 0 1 0 5.8 0M163.1 87.9a2.9 2.9 0 1 0 -5.8 0a2.9 2.9 0 1 0 5.8 0M166.6 84.6a2.9 2.9 0 1 0 -5.8 0a2.9 2.9 0 1 0 5.8 0M129.5 125.1a2.9 2.9 0 1 0 -5.8 0a2.9 2.9 0 1 0 5.8 0M166.2 84.8a2.9 2.9 0 1 0 -5.8 0a2.9 2.9 0 1 0 5.8 0M156.5 95.8a2.9 2.9 0 1 0 -5.8 0a2.9 2.9 0 1 0 5.8 0M148.8 104.5a2.9 2.9 0 1 0 -5.8 0a2.9 2.9 0 1 0 5.8 0M164.2 87.1a2.9 2.9 0 1 0 -5.8 0a2.9 2.9 0 1 0 5.8 0M130.7 123.8a2.9 2.9 0 1 0 -5.8 0a2.9 2.9 0 1 0 5.8 0M147.4 105.3a2.9 2.9 0 1 0 -5.8 0a2.9 2.9 0 1 0 5.8 0M145.1 108.6a2.9 2.9 0 1 0 -5.8 0a2.9 2.9 0 1 0 5.8 0M148.7 103.8a2.9 2.9 0 1 0 -5.8 0a2.9 2.9 0 1 0 5.8 0M142.5 110.0a2.9 2.9 0 1 0 -5.8 0a2.9 2.9 0 1 0 5.8 0M138.4 115.8a2.9 2.9 0 1 0 -5.8 0a2.9 2.9 0 1 0 5.8 0M141.2 111.7a2.9 2.9 0 1 0 -5.8 0a2.9 2.9 0 1 0 5.8 0M165.1 86.5a2.9 2.9 0 1 0 -5.8 0a2.9 2.9 0 1 0 5.8 0M131.6 122.5a2.9 2.9 0 1 0 -5.8 0a2.9 2.9 0 1 0 5.8 0M165.1 86.2a2.9 2.9 0 1 0 -5.8 0a2.9 2.9 0 1 0 5.8 0M133.7 121.1a2.9 2.9 0 1 0 -5.8 0a2.9 2.9 0 1 0 5.8 0M148.8 104.7a2.9 2.9 0 1 0 -5.8 0a2.9 2.9 0 1 0 5.8 0M165.6 85.1a2.9 2.9 0 1 0 -5.8 0a2.9 2.9 0 1 0 5.8 0M158.5 93.6a2.9 2.9 0 1 0 -5.8 0a2.9 2.9 0 1 0 5.8 0M164.5 86.8a2.9 2.9 0 1 0 -5.8 0a2.9 2.9 0 1 0 5.8 0M166.5 84.5a2.9 2.9 0 1 0 -5.8 0a2.9 2.9 0 1 0 5.8 0M147.8 104.7a2.9 2.9 0 1 0 -5.8 0a2.9 2.9 0 1 0 5.8 0M167.8 83.2a2.9 2.9 0 1 0 -5.8 0a2.9 2.9 0 1 0 5.8 0M162.6 89.0a2.9 2.9 0 1 0 -5.8 0a2.9 2.9 0 1 0 5.8 0M152.0 101.4a2.9 2.9 0 1 0 -5.8 0a2.9 2.9 0 1 0 5.8 0M152.5 99.9a2.9 2.9 0 1 0 -5.8 0a2.9 2.9 0 1 0 5.8 0M156.5 95.7a2.9 2.9 0 1 0 -5.8 0a2.9 2.9 0 1 0 5.8 0M129.1 125.5a2.9 2.9 0 1 0 -5.8 0a2.9 2.9 0 1 0 5.8 0M142.3 111.5a2.9 2.9 0 1 0 -5.8 0a2.9 2.9 0 1 0 5.8 0M142.9 110.9a2.9 2.9 0 1 0 -5.8 0a2.9 2.9 0 1 0 5.8 0M153.7 99.0a2.9 2.9 0 1 0 -5.8 0a2.9 2.9 0 1 0 5.8 0M141.6 112.6a2.9 2.9 0 1 0 -5.8 0a2.9 2.9 0 1 0 5.8 0M161.5 89.9a2.9 2.9 0 1 0 -5.8 0a2.9 2.9 0 1 0 5.8 0M165.0 87.3a2.9 2.9 0 1 0 -5.8 0a2.9 2.9 0 1 0 5.8 0M129.5 125.4a2.9 2.9 0 1 0 -5.8 0a2.9 2.9 0 1 0 5.8 0M144.5 109.1a2.9 2.9 0 1 0 -5.8 0a2.9 2.9 0 1 0 5.8 0M149.4 103.2a2.9 2.9 0 1 0 -5.8 0a2.9 2.9 0 1 0 5.8 0M168.1 82.7a2.9 2.9 0 1 0 -5.8 0a2.9 2.9 0 1 0 5.8 0M141.8 111.2a2.9 2.9 0 1 0 -5.8 0a2.9 2.9 0 1 0 5.8 0M141.6 112.4a2.9 2.9 0 1 0 -5.8 0a2.9 2.9 0 1 0 5.8 0M141.8 112.3a2.9 2.9 0 1 0 -5.8 0a2.9 2.9 0 1 0 5.8 0M142.6 111.3a2.9 2.9 0 1 0 -5.8 0a2.9 2.9 0 1 0 5.8 0M131.0 123.2a2.9 2.9 0 1 0 -5.8 0a2.9 2.9 0 1 0 5.8 0M157.6 93.7a2.9 2.9 0 1 0 -5.8 0a2.9 2.9 0 1 0 5.8 0M133.0 121.1a2.9 2.9 0 1 0 -5.8 0a2.9 2.9 0 1 0 5.8 0M142.5 111.5a2.9 2.9 0 1 0 -5.8 0a2.9 2.9 0 1 0 5.8 0M164.5 86.8a2.9 2.9 0 1 0 -5.8 0a2.9 2.9 0 1 0 5.8 0M142.5 110.9a2.9 2.9 0 1 0 -5.8 0a2.9 2.9 0 1 0 5.8 0M158.6 93.9a2.9 2.9 0 1 0 -5.8 0a2.9 2.9 0 1 0 5.8 0M165.2 86.4a2.9 2.9 0 1 0 -5.8 0a2.9 2.9 0 1 0 5.8 0M144.6 108.7a2.9 2.9 0 1 0 -5.8 0a2.9 2.9 0 1 0 5.8 0M160.2 91.7a2.9 2.9 0 1 0 -5.8 0a2.9 2.9 0 1 0 5.8 0M135.3 119.4a2.9 2.9 0 1 0 -5.8 0a2.9 2.9 0 1 0 5.8 0M155.4 97.6a2.9 2.9 0 1 0 -5.8 0a2.9 2.9 0 1 0 5.8 0M152.3 101.0a2.9 2.9 0 1 0 -5.8 0a2.9 2.9 0 1 0 5.8 0M143.7 109.9a2.9 2.9 0 1 0 -5.8 0a2.9 2.9 0 1 0 5.8 0M138.4 116.0a2.9 2.9 0 1 0 -5.8 0a2.9 2.9 0 1 0 5.8 0M133.6 121.0a2.9 2.9 0 1 0 -5.8 0a2.9 2.9 0 1 0 5.8 0M150.2 102.9a2.9 2.9 0 1 0 -5.8 0a2.9 2.9 0 1 0 5.8 0M157.1 95.0a2.9 2.9 0 1 0 -5.8 0a2.9 2.9 0 1 0 5.8 0M160.2 92.1a2.9 2.9 0 1 0 -5.8 0a2.9 2.9 0 1 0 5.8 0M167.9 82.4a2.9 2.9 0 1 0 -5.8 0a2.9 2.9 0 1 0 5.8 0M155.5 97.1a2.9 2.9 0 1 0 -5.8 0a2.9 2.9 0 1 0 5.8 0M133.9 120.2a2.9 2.9 0 1 0 -5.8 0a2.9 2.9 0 1 0 5.8 0M139.7 113.9a2.9 2.9 0 1 0 -5.8 0a2.9 2.9 0 1 0 5.8 0M165.5 85.9a2.9 2.9 0 1 0 -5.8 0a2.9 2.9 0 1 0 5.8 0M156.7 95.4a2.9 2.9 0 1 0 -5.8 0a2.9 2.9 0 1 0 5.8 0M154.8 97.8a2.9 2.9 0 1 0 -5.8 0a2.9 2.9 0 1 0 5.8 0M137.2 117.1a2.9 2.9 0 1 0 -5.8 0a2.9 2.9 0 1 0 5.8 0M158.0 94.7a2.9 2.9 0 1 0 -5.8 0a2.9 2.9 0 1 0 5.8 0M150.1 102.4a2.9 2.9 0 1 0 -5.8 0a2.9 2.9 0 1 0 5.8 0M135.2 119.2a2.9 2.9 0 1 0 -5.8 0a2.9 2.9 0 1 0 5.8 0M163.2 87.9a2.9 2.9 0 1 0 -5.8 0a2.9 2.9 0 1 0 5.8 0M145.5 107.5a2.9 2.9 0 1 0 -5.8 0a2.9 2.9 0 1 0 5.8 0M164.1 87.8a2.9 2.9 0 1 0 -5.8 0a2.9 2.9 0 1 0 5.8 0M148.7 103.8a2.9 2.9 0 1 0 -5.8 0a2.9 2.9 0 1 0 5.8 0M148.2 105.2a2.9 2.9 0 1 0 -5.8 0a2.9 2.9 0 1 0 5.8 0M152.6 99.8a2.9 2.9 0 1 0 -5.8 0a2.9 2.9 0 1 0 5.8 0M146.6 107.5a2.9 2.9 0 1 0 -5.8 0a2.9 2.9 0 1 0 5.8 0M167.6 83.0a2.9 2.9 0 1 0 -5.8 0a2.9 2.9 0 1 0 5.8 0M138.7 115.1a2.9 2.9 0 1 0 -5.8 0a2.9 2.9 0 1 0 5.8 0M142.1 111.4a2.9 2.9 0 1 0 -5.8 0a2.9 2.9 0 1 0 5.8 0M164.6 86.5a2.9 2.9 0 1 0 -5.8 0a2.9 2.9 0 1 0 5.8 0M168.3 82.2a2.9 2.9 0 1 0 -5.8 0a2.9 2.9 0 1 0 5.8 0M153.4 99.2a2.9 2.9 0 1 0 -5.8 0a2.9 2.9 0 1 0 5.8 0M146.9 106.2a2.9 2.9 0 1 0 -5.8 0a2.9 2.9 0 1 0 5.8 0M147.3 105.6a2.9 2.9 0 1 0 -5.8 0a2.9 2.9 0 1 0 5.8 0M161.3 90.9a2.9 2.9 0 1 0 -5.8 0a2.9 2.9 0 1 0 5.8 0M145.3 108.5a2.9 2.9 0 1 0 -5.8 0a2.9 2.9 0 1 0 5.8 0M135.7 119.0a2.9 2.9 0 1 0 -5.8 0a2.9 2.9 0 1 0 5.8 0M167.2 84.5a2.9 2.9 0 1 0 -5.8 0a2.9 2.9 0 1 0 5.8 0M167.7 83.3a2.9 2.9 0 1 0 -5.8 0a2.9 2.9 0 1 0 5.8 0M151.8 101.1a2.9 2.9 0 1 0 -5.8 0a2.9 2.9 0 1 0 5.8 0M137.6 116.4a2.9 2.9 0 1 0 -5.8 0a2.9 2.9 0 1 0 5.8 0M159.6 93.0a2.9 2.9 0 1 0 -5.8 0a2.9 2.9 0 1 0 5.8 0M156.7 95.6a2.9 2.9 0 1 0 -5.8 0a2.9 2.9 0 1 0 5.8 0M156.3 96.3a2.9 2.9 0 1 0 -5.8 0a2.9 2.9 0 1 0 5.8 0M146.4 105.9a2.9 2.9 0 1 0 -5.8 0a2.9 2.9 0 1 0 5.8 0M135.5 118.0a2.9 2.9 0 1 0 -5.8 0a2.9 2.9 0 1 0 5.8 0M134.0 121.0a2.9 2.9 0 1 0 -5.8 0a2.9 2.9 0 1 0 5.8 0M164.3 87.3a2.9 2.9 0 1 0 -5.8 0a2.9 2.9 0 1 0 5.8 0M152.0 100.9a2.9 2.9 0 1 0 -5.8 0a2.9 2.9 0 1 0 5.8 0M165.5 85.5a2.9 2.9 0 1 0 -5.8 0a2.9 2.9 0 1 0 5.8 0M138.2 115.2a2.9 2.9 0 1 0 -5.8 0a2.9 2.9 0 1 0 5.8 0M134.1 118.8a2.9 2.9 0 1 0 -5.8 0a2.9 2.9 0 1 0 5.8 0M155.3 97.5a2.9 2.9 0 1 0 -5.8 0a2.9 2.9 0 1 0 5.8 0M160.7 91.5a2.9 2.9 0 1 0 -5.8 0a2.9 2.9 0 1 0 5.8 0M153.3 98.9a2.9 2.9 0 1 0 -5.8 0a2.9 2.9 0 1 0 5.8 0M161.5 90.4a2.9 2.9 0 1 0 -5.8 0a2.9 2.9 0 1 0 5.8 0M154.2 98.7a2.9 2.9 0 1 0 -5.8 0a2.9 2.9 0 1 0 5.8 0M144.8 108.2a2.9 2.9 0 1 0 -5.8 0a2.9 2.9 0 1 0 5.8 0M160.2 92.5a2.9 2.9 0 1 0 -5.8 0a2.9 2.9 0 1 0 5.8 0M142.1 112.3a2.9 2.9 0 1 0 -5.8 0a2.9 2.9 0 1 0 5.8 0M143.5 109.0a2.9 2.9 0 1 0 -5.8 0a2.9 2.9 0 1 0 5.8 0M155.3 96.8a2.9 2.9 0 1 0 -5.8 0a2.9 2.9 0 1 0 5.8 0M137.8 116.0a2.9 2.9 0 1 0 -5.8 0a2.9 2.9 0 1 0 5.8 0M155.7 96.5a2.9 2.9 0 1 0 -5.8 0a2.9 2.9 0 1 0 5.8 0M131.4 122.5a2.9 2.9 0 1 0 -5.8 0a2.9 2.9 0 1 0 5.8 0M156.5 95.8a2.9 2.9 0 1 0 -5.8 0a2.9 2.9 0 1 0 5.8 0M138.5 115.7a2.9 2.9 0 1 0 -5.8 0a2.9 2.9 0 1 0 5.8 0M139.0 115.1a2.9 2.9 0 1 0 -5.8 0a2.9 2.9 0 1 0 5.8 0M138.2 115.7a2.9 2.9 0 1 0 -5.8 0a2.9 2.9 0 1 0 5.8 0M160.9 90.7a2.9 2.9 0 1 0 -5.8 0a2.9 2.9 0 1 0 5.8 0M149.7 103.3a2.9 2.9 0 1 0 -5.8 0a2.9 2.9 0 1 0 5.8 0M154.9 96.9a2.9 2.9 0 1 0 -5.8 0a2.9 2.9 0 1 0 5.8 0M150.2 102.8a2.9 2.9 0 1 0 -5.8 0a2.9 2.9 0 1 0 5.8 0M159.6 92.1a2.9 2.9 0 1 0 -5.8 0a2.9 2.9 0 1 0 5.8 0M154.1 99.0a2.9 2.9 0 1 0 -5.8 0a2.9 2.9 0 1 0 5.8 0M160.9 90.1a2.9 2.9 0 1 0 -5.8 0a2.9 2.9 0 1 0 5.8 0M137.6 116.1a2.9 2.9 0 1 0 -5.8 0a2.9 2.9 0 1 0 5.8 0M143.2 110.7a2.9 2.9 0 1 0 -5.8 0a2.9 2.9 0 1 0 5.8 0M152.3 100.0a2.9 2.9 0 1 0 -5.8 0a2.9 2.9 0 1 0 5.8 0M152.4 100.4a2.9 2.9 0 1 0 -5.8 0a2.9 2.9 0 1 0 5.8 0M154.9 97.1a2.9 2.9 0 1 0 -5.8 0a2.9 2.9 0 1 0 5.8 0M166.1 85.2a2.9 2.9 0 1 0 -5.8 0a2.9 2.9 0 1 0 5.8 0M163.0 88.6a2.9 2.9 0 1 0 -5.8 0a2.9 2.9 0 1 0 5.8 0M164.1 87.0a2.9 2.9 0 1 0 -5.8 0a2.9 2.9 0 1 0 5.8 0M145.8 107.9a2.9 2.9 0 1 0 -5.8 0a2.9 2.9 0 1 0 5.8 0M131.2 122.9a2.9 2.9 0 1 0 -5.8 0a2.9 2.9 0 1 0 5.8 0M133.8 120.7a2.9 2.9 0 1 0 -5.8 0a2.9 2.9 0 1 0 5.8 0M153.6 98.4a2.9 2.9 0 1 0 -5.8 0a2.9 2.9 0 1 0 5.8 0M152.9 99.5a2.9 2.9 0 1 0 -5.8 0a2.9 2.9 0 1 0 5.8 0M169.1 82.4a2.9 2.9 0 1 0 -5.8 0a2.9 2.9 0 1 0 5.8 0M185.2 65.3a2.9 2.9 0 1 0 -5.8 0a2.9 2.9 0 1 0 5.8 0M172.1 78.9a2.9 2.9 0 1 0 -5.8 0a2.9 2.9 0 1 0 5.8 0M179.1 70.5a2.9 2.9 0 1 0 -5.8 0a2.9 2.9 0 1 0 5.8 0M172.8 78.3a2.9 2.9 0 1 0 -5.8 0a2.9 2.9 0 1 0 5.8 0M182.0 68.6a2.9 2.9 0 1 0 -5.8 0a2.9 2.9 0 1 0 5.8 0M169.1 82.0a2.9 2.9 0 1 0 -5.8 0a2.9 2.9 0 1 0 5.8 0M173.2 76.6a2.9 2.9 0 1 0 -5.8 0a2.9 2.9 0 1 0 5.8 0M171.8 79.0a2.9 2.9 0 1 0 -5.8 0a2.9 2.9 0 1 0 5.8 0M170.2 81.7a2.9 2.9 0 1 0 -5.8 0a2.9 2.9 0 1 0 5.8 0M177.5 73.2a2.9 2.9 0 1 0 -5.8 0a2.9 2.9 0 1 0 5.8 0M179.5 71.1a2.9 2.9 0 1 0 -5.8 0a2.9 2.9 0 1 0 5.8 0M169.4 82.0a2.9 2.9 0 1 0 -5.8 0a2.9 2.9 0 1 0 5.8 0M170.8 80.2a2.9 2.9 0 1 0 -5.8 0a2.9 2.9 0 1 0 5.8 0M186.2 64.8a2.9 2.9 0 1 0 -5.8 0a2.9 2.9 0 1 0 5.8 0M174.9 75.0a2.9 2.9 0 1 0 -5.8 0a2.9 2.9 0 1 0 5.8 0M178.2 71.7a2.9 2.9 0 1 0 -5.8 0a2.9 2.9 0 1 0 5.8 0M169.4 82.5a2.9 2.9 0 1 0 -5.8 0a2.9 2.9 0 1 0 5.8 0M178.3 72.4a2.9 2.9 0 1 0 -5.8 0a2.9 2.9 0 1 0 5.8 0M168.9 82.7a2.9 2.9 0 1 0 -5.8 0a2.9 2.9 0 1 0 5.8 0M183.8 66.5a2.9 2.9 0 1 0 -5.8 0a2.9 2.9 0 1 0 5.8 0M175.6 75.1a2.9 2.9 0 1 0 -5.8 0a2.9 2.9 0 1 0 5.8 0" fill="none" stroke="#3f7bbd" stroke-width="1.0"/><path d="M161.0 90.6a2.9 2.9 0 1 0 -5.8 0a2.9 2.9 0 1 0 5.8 0M175.8 74.4a2.9 2.9 0 1 0 -5.8 0a2.9 2.9 0 1 0 5.8 0M163.8 87.6a2.9 2.9 0 1 0 -5.8 0a2.9 2.9 0 1 0 5.8 0M177.4 72.7a2.9 2.9 0 1 0 -5.8 0a2.9 2.9 0 1 0 5.8 0M164.2 87.5a2.9 2.9 0 1 0 -5.8 0a2.9 2.9 0 1 0 5.8 0" fill="none" stroke="#d2243f" stroke-width="1.0"/></g>
<g clip-path="url(#cb)"><path d="M411.7 87.7a2.9 2.9 0 1 0 -5.8 0a2.9 2.9 0 1 0 5.8 0M384.5 125.3a2.9 2.9 0 1 0 -5.8 0a2.9 2.9 0 1 0 5.8 0M404.0 105.3a2.9 2.9 0 1 0 -5.8 0a2.9 2.9 0 1 0 5.8 0M384.4 121.8a2.9 2.9 0 1 0 -5.8 0a2.9 2.9 0 1 0 5.8 0M388.5 120.9a2.9 2.9 0 1 0 -5.8 0a2.9 2.9 0 1 0 5.8 0M396.9 109.1a2.9 2.9 0 1 0 -5.8 0a2.9 2.9 0 1 0 5.8 0M379.4 125.0a2.9 2.9 0 1 0 -5.8 0a2.9 2.9 0 1 0 5.8 0M394.9 109.7a2.9 2.9 0 1 0 -5.8 0a2.9 2.9 0 1 0 5.8 0M399.6 107.2a2.9 2.9 0 1 0 -5.8 0a2.9 2.9 0 1 0 5.8 0M384.0 126.8a2.9 2.9 0 1 0 -5.8 0a2.9 2.9 0 1 0 5.8 0M411.3 97.8a2.9 2.9 0 1 0 -5.8 0a2.9 2.9 0 1 0 5.8 0M404.6 103.7a2.9 2.9 0 1 0 -5.8 0a2.9 2.9 0 1 0 5.8 0M418.0 90.0a2.9 2.9 0 1 0 -5.8 0a2.9 2.9 0 1 0 5.8 0M392.2 111.2a2.9 2.9 0 1 0 -5.8 0a2.9 2.9 0 1 0 5.8 0M402.3 105.3a2.9 2.9 0 1 0 -5.8 0a2.9 2.9 0 1 0 5.8 0M384.7 125.3a2.9 2.9 0 1 0 -5.8 0a2.9 2.9 0 1 0 5.8 0M398.4 109.0a2.9 2.9 0 1 0 -5.8 0a2.9 2.9 0 1 0 5.8 0M398.9 111.5a2.9 2.9 0 1 0 -5.8 0a2.9 2.9 0 1 0 5.8 0M403.8 101.5a2.9 2.9 0 1 0 -5.8 0a2.9 2.9 0 1 0 5.8 0M391.6 114.0a2.9 2.9 0 1 0 -5.8 0a2.9 2.9 0 1 0 5.8 0M410.4 94.6a2.9 2.9 0 1 0 -5.8 0a2.9 2.9 0 1 0 5.8 0M383.4 123.2a2.9 2.9 0 1 0 -5.8 0a2.9 2.9 0 1 0 5.8 0M382.2 126.5a2.9 2.9 0 1 0 -5.8 0a2.9 2.9 0 1 0 5.8 0M408.9 92.9a2.9 2.9 0 1 0 -5.8 0a2.9 2.9 0 1 0 5.8 0M393.5 115.2a2.9 2.9 0 1 0 -5.8 0a2.9 2.9 0 1 0 5.8 0M390.8 114.7a2.9 2.9 0 1 0 -5.8 0a2.9 2.9 0 1 0 5.8 0M410.3 97.3a2.9 2.9 0 1 0 -5.8 0a2.9 2.9 0 1 0 5.8 0M384.8 123.8a2.9 2.9 0 1 0 -5.8 0a2.9 2.9 0 1 0 5.8 0M410.2 96.8a2.9 2.9 0 1 0 -5.8 0a2.9 2.9 0 1 0 5.8 0M391.9 120.6a2.9 2.9 0 1 0 -5.8 0a2.9 2.9 0 1 0 5.8 0M384.6 145.7a2.9 2.9 0 1 0 -5.8 0a2.9 2.9 0 1 0 5.8 0M386.4 148.9a2.9 2.9 0 1 0 -5.8 0a2.9 2.9 0 1 0 5.8 0M385.7 152.2a2.9 2.9 0 1 0 -5.8 0a2.9 2.9 0 1 0 5.8 0M382.0 157.6a2.9 2.9 0 1 0 -5.8 0a2.9 2.9 0 1 0 5.8 0M379.2 163.7a2.9 2.9 0 1 0 -5.8 0a2.9 2.9 0 1 0 5.8 0M376.4 167.4a2.9 2.9 0 1 0 -5.8 0a2.9 2.9 0 1 0 5.8 0M371.6 145.7a2.9 2.9 0 1 0 -5.8 0a2.9 2.9 0 1 0 5.8 0M373.8 142.4a2.9 2.9 0 1 0 -5.8 0a2.9 2.9 0 1 0 5.8 0M367.2 151.1a2.9 2.9 0 1 0 -5.8 0a2.9 2.9 0 1 0 5.8 0M386.8 133.7a2.9 2.9 0 1 0 -5.8 0a2.9 2.9 0 1 0 5.8 0M390.1 129.3a2.9 2.9 0 1 0 -5.8 0a2.9 2.9 0 1 0 5.8 0M372.4 138.1a2.9 2.9 0 1 0 -5.8 0a2.9 2.9 0 1 0 5.8 0M375.9 130.5a2.9 2.9 0 1 0 -5.8 0a2.9 2.9 0 1 0 5.8 0M388.2 113.2a2.9 2.9 0 1 0 -5.8 0a2.9 2.9 0 1 0 5.8 0M392.1 129.8a2.9 2.9 0 1 0 -5.8 0a2.9 2.9 0 1 0 5.8 0M387.4 105.5a2.9 2.9 0 1 0 -5.8 0a2.9 2.9 0 1 0 5.8 0M398.4 102.5a2.9 2.9 0 1 0 -5.8 0a2.9 2.9 0 1 0 5.8 0M409.0 91.6a2.9 2.9 0 1 0 -5.8 0a2.9 2.9 0 1 0 5.8 0M412.1 93.2a2.9 2.9 0 1 0 -5.8 0a2.9 2.9 0 1 0 5.8 0M414.5 97.9a2.9 2.9 0 1 0 -5.8 0a2.9 2.9 0 1 0 5.8 0M419.3 96.3a2.9 2.9 0 1 0 -5.8 0a2.9 2.9 0 1 0 5.8 0M416.1 102.6a2.9 2.9 0 1 0 -5.8 0a2.9 2.9 0 1 0 5.8 0M420.1 92.4a2.9 2.9 0 1 0 -5.8 0a2.9 2.9 0 1 0 5.8 0M390.0 127.2a2.9 2.9 0 1 0 -5.8 0a2.9 2.9 0 1 0 5.8 0M388.7 129.6a2.9 2.9 0 1 0 -5.8 0a2.9 2.9 0 1 0 5.8 0M417.1 81.9a2.9 2.9 0 1 0 -5.8 0a2.9 2.9 0 1 0 5.8 0M414.8 85.0a2.9 2.9 0 1 0 -5.8 0a2.9 2.9 0 1 0 5.8 0M409.2 92.1a2.9 2.9 0 1 0 -5.8 0a2.9 2.9 0 1 0 5.8 0M407.6 95.3a2.9 2.9 0 1 0 -5.8 0a2.9 2.9 0 1 0 5.8 0M411.6 97.7a2.9 2.9 0 1 0 -5.8 0a2.9 2.9 0 1 0 5.8 0M414.0 102.4a2.9 2.9 0 1 0 -5.8 0a2.9 2.9 0 1 0 5.8 0M418.7 95.3a2.9 2.9 0 1 0 -5.8 0a2.9 2.9 0 1 0 5.8 0M421.9 90.6a2.9 2.9 0 1 0 -5.8 0a2.9 2.9 0 1 0 5.8 0M425.0 87.4a2.9 2.9 0 1 0 -5.8 0a2.9 2.9 0 1 0 5.8 0M426.6 83.4a2.9 2.9 0 1 0 -5.8 0a2.9 2.9 0 1 0 5.8 0M431.4 78.7a2.9 2.9 0 1 0 -5.8 0a2.9 2.9 0 1 0 5.8 0M435.3 75.5a2.9 2.9 0 1 0 -5.8 0a2.9 2.9 0 1 0 5.8 0M436.1 82.6a2.9 2.9 0 1 0 -5.8 0a2.9 2.9 0 1 0 5.8 0M437.7 73.2a2.9 2.9 0 1 0 -5.8 0a2.9 2.9 0 1 0 5.8 0M433.7 73.2a2.9 2.9 0 1 0 -5.8 0a2.9 2.9 0 1 0 5.8 0M429.0 75.5a2.9 2.9 0 1 0 -5.8 0a2.9 2.9 0 1 0 5.8 0M440.1 70.8a2.9 2.9 0 1 0 -5.8 0a2.9 2.9 0 1 0 5.8 0M452.1 57.1a2.9 2.9 0 1 0 -5.8 0a2.9 2.9 0 1 0 5.8 0M454.5 58.7a2.9 2.9 0 1 0 -5.8 0a2.9 2.9 0 1 0 5.8 0M456.9 60.8a2.9 2.9 0 1 0 -5.8 0a2.9 2.9 0 1 0 5.8 0M450.6 59.5a2.9 2.9 0 1 0 -5.8 0a2.9 2.9 0 1 0 5.8 0M435.5 67.4a2.9 2.9 0 1 0 -5.8 0a2.9 2.9 0 1 0 5.8 0M441.9 68.2a2.9 2.9 0 1 0 -5.8 0a2.9 2.9 0 1 0 5.8 0M445.8 68.2a2.9 2.9 0 1 0 -5.8 0a2.9 2.9 0 1 0 5.8 0M449.0 66.6a2.9 2.9 0 1 0 -5.8 0a2.9 2.9 0 1 0 5.8 0M432.4 73.7a2.9 2.9 0 1 0 -5.8 0a2.9 2.9 0 1 0 5.8 0M437.1 74.5a2.9 2.9 0 1 0 -5.8 0a2.9 2.9 0 1 0 5.8 0M430.8 76.1a2.9 2.9 0 1 0 -5.8 0a2.9 2.9 0 1 0 5.8 0M436.3 82.4a2.9 2.9 0 1 0 -5.8 0a2.9 2.9 0 1 0 5.8 0M434.0 79.2a2.9 2.9 0 1 0 -5.8 0a2.9 2.9 0 1 0 5.8 0M426.9 80.8a2.9 2.9 0 1 0 -5.8 0a2.9 2.9 0 1 0 5.8 0M425.3 87.2a2.9 2.9 0 1 0 -5.8 0a2.9 2.9 0 1 0 5.8 0M429.2 77.7a2.9 2.9 0 1 0 -5.8 0a2.9 2.9 0 1 0 5.8 0M438.7 72.9a2.9 2.9 0 1 0 -5.8 0a2.9 2.9 0 1 0 5.8 0M473.4 45.9a2.9 2.9 0 1 0 -5.8 0a2.9 2.9 0 1 0 5.8 0M471.1 56.3a2.9 2.9 0 1 0 -5.8 0a2.9 2.9 0 1 0 5.8 0M424.6 80.5a2.9 2.9 0 1 0 -5.8 0a2.9 2.9 0 1 0 5.8 0M417.7 82.4a2.9 2.9 0 1 0 -5.8 0a2.9 2.9 0 1 0 5.8 0M402.9 100.0a2.9 2.9 0 1 0 -5.8 0a2.9 2.9 0 1 0 5.8 0M400.9 104.0a2.9 2.9 0 1 0 -5.8 0a2.9 2.9 0 1 0 5.8 0M394.9 110.0a2.9 2.9 0 1 0 -5.8 0a2.9 2.9 0 1 0 5.8 0" fill="none" stroke="#d2243f" stroke-width="1.0"/><path d="M378.1 173.9a2.9 2.9 0 1 0 -5.8 0a2.9 2.9 0 1 0 5.8 0M390.1 134.8a2.9 2.9 0 1 0 -5.8 0a2.9 2.9 0 1 0 5.8 0M365.1 157.6a2.9 2.9 0 1 0 -5.8 0a2.9 2.9 0 1 0 5.8 0M368.3 151.1a2.9 2.9 0 1 0 -5.8 0a2.9 2.9 0 1 0 5.8 0M383.6 140.2a2.9 2.9 0 1 0 -5.8 0a2.9 2.9 0 1 0 5.8 0M372.4 143.0a2.9 2.9 0 1 0 -5.8 0a2.9 2.9 0 1 0 5.8 0M414.2 137.3a2.9 2.9 0 1 0 -5.8 0a2.9 2.9 0 1 0 5.8 0M411.4 107.4a2.9 2.9 0 1 0 -5.8 0a2.9 2.9 0 1 0 5.8 0M410.6 101.9a2.9 2.9 0 1 0 -5.8 0a2.9 2.9 0 1 0 5.8 0M406.1 98.5a2.9 2.9 0 1 0 -5.8 0a2.9 2.9 0 1 0 5.8 0M404.5 101.6a2.9 2.9 0 1 0 -5.8 0a2.9 2.9 0 1 0 5.8 0M410.8 106.4a2.9 2.9 0 1 0 -5.8 0a2.9 2.9 0 1 0 5.8 0M410.4 107.8a2.9 2.9 0 1 0 -5.8 0a2.9 2.9 0 1 0 5.8 0M377.8 134.4a2.9 2.9 0 1 0 -5.8 0a2.9 2.9 0 1 0 5.8 0M383.1 129.9a2.9 2.9 0 1 0 -5.8 0a2.9 2.9 0 1 0 5.8 0M377.7 132.9a2.9 2.9 0 1 0 -5.8 0a2.9 2.9 0 1 0 5.8 0M384.0 129.6a2.9 2.9 0 1 0 -5.8 0a2.9 2.9 0 1 0 5.8 0M382.4 128.5a2.9 2.9 0 1 0 -5.8 0a2.9 2.9 0 1 0 5.8 0M380.4 130.6a2.9 2.9 0 1 0 -5.8 0a2.9 2.9 0 1 0 5.8 0M382.3 126.0a2.9 2.9 0 1 0 -5.8 0a2.9 2.9 0 1 0 5.8 0M377.7 132.4a2.9 2.9 0 1 0 -5.8 0a2.9 2.9 0 1 0 5.8 0M375.6 130.5a2.9 2.9 0 1 0 -5.8 0a2.9 2.9 0 1 0 5.8 0M385.2 124.0a2.9 2.9 0 1 0 -5.8 0a2.9 2.9 0 1 0 5.8 0M388.1 122.5a2.9 2.9 0 1 0 -5.8 0a2.9 2.9 0 1 0 5.8 0M379.9 131.5a2.9 2.9 0 1 0 -5.8 0a2.9 2.9 0 1 0 5.8 0M380.8 127.2a2.9 2.9 0 1 0 -5.8 0a2.9 2.9 0 1 0 5.8 0M379.1 129.5a2.9 2.9 0 1 0 -5.8 0a2.9 2.9 0 1 0 5.8 0M377.0 134.1a2.9 2.9 0 1 0 -5.8 0a2.9 2.9 0 1 0 5.8 0M389.2 121.9a2.9 2.9 0 1 0 -5.8 0a2.9 2.9 0 1 0 5.8 0M382.4 130.0a2.9 2.9 0 1 0 -5.8 0a2.9 2.9 0 1 0 5.8 0M382.4 129.0a2.9 2.9 0 1 0 -5.8 0a2.9 2.9 0 1 0 5.8 0M376.1 132.2a2.9 2.9 0 1 0 -5.8 0a2.9 2.9 0 1 0 5.8 0M378.0 132.6a2.9 2.9 0 1 0 -5.8 0a2.9 2.9 0 1 0 5.8 0M386.0 123.4a2.9 2.9 0 1 0 -5.8 0a2.9 2.9 0 1 0 5.8 0M386.2 120.2a2.9 2.9 0 1 0 -5.8 0a2.9 2.9 0 1 0 5.8 0M386.1 124.3a2.9 2.9 0 1 0 -5.8 0a2.9 2.9 0 1 0 5.8 0M386.9 125.8a2.9 2.9 0 1 0 -5.8 0a2.9 2.9 0 1 0 5.8 0M378.2 136.1a2.9 2.9 0 1 0 -5.8 0a2.9 2.9 0 1 0 5.8 0M377.7 133.2a2.9 2.9 0 1 0 -5.8 0a2.9 2.9 0 1 0 5.8 0M388.1 121.0a2.9 2.9 0 1 0 -5.8 0a2.9 2.9 0 1 0 5.8 0M380.9 131.3a2.9 2.9 0 1 0 -5.8 0a2.9 2.9 0 1 0 5.8 0M383.6 131.2a2.9 2.9 0 1 0 -5.8 0a2.9 2.9 0 1 0 5.8 0M378.9 128.8a2.9 2.9 0 1 0 -5.8 0a2.9 2.9 0 1 0 5.8 0M374.2 135.3a2.9 2.9 0 1 0 -5.8 0a2.9 2.9 0 1 0 5.8 0M389.0 119.8a2.9 2.9 0 1 0 -5.8 0a2.9 2.9 0 1 0 5.8 0M383.3 129.6a2.9 2.9 0 1 0 -5.8 0a2.9 2.9 0 1 0 5.8 0M386.0 124.4a2.9 2.9 0 1 0 -5.8 0a2.9 2.9 0 1 0 5.8 0M379.0 133.8a2.9 2.9 0 1 0 -5.8 0a2.9 2.9 0 1 0 5.8 0M384.9 127.1a2.9 2.9 0 1 0 -5.8 0a2.9 2.9 0 1 0 5.8 0M377.2 133.5a2.9 2.9 0 1 0 -5.8 0a2.9 2.9 0 1 0 5.8 0M388.1 120.9a2.9 2.9 0 1 0 -5.8 0a2.9 2.9 0 1 0 5.8 0M380.6 131.6a2.9 2.9 0 1 0 -5.8 0a2.9 2.9 0 1 0 5.8 0M376.8 135.4a2.9 2.9 0 1 0 -5.8 0a2.9 2.9 0 1 0 5.8 0M375.3 135.2a2.9 2.9 0 1 0 -5.8 0a2.9 2.9 0 1 0 5.8 0M381.8 131.8a2.9 2.9 0 1 0 -5.8 0a2.9 2.9 0 1 0 5.8 0M385.9 126.3a2.9 2.9 0 1 0 -5.8 0a2.9 2.9 0 1 0 5.8 0M390.8 122.4a2.9 2.9 0 1 0 -5.8 0a2.9 2.9 0 1 0 5.8 0M378.9 128.2a2.9 2.9 0 1 0 -5.8 0a2.9 2.9 0 1 0 5.8 0M383.9 127.2a2.9 2.9 0 1 0 -5.8 0a2.9 2.9 0 1 0 5.8 0M388.9 123.0a2.9 2.9 0 1 0 -5.8 0a2.9 2.9 0 1 0 5.8 0M378.5 132.7a2.9 2.9 0 1 0 -5.8 0a2.9 2.9 0 1 0 5.8 0M387.8 122.2a2.9 2.9 0 1 0 -5.8 0a2.9 2.9 0 1 0 5.8 0M386.7 123.3a2.9 2.9 0 1 0 -5.8 0a2.9 2.9 0 1 0 5.8 0M388.0 125.5a2.9 2.9 0 1 0 -5.8 0a2.9 2.9 0 1 0 5.8 0M375.5 135.7a2.9 2.9 0 1 0 -5.8 0a2.9 2.9 0 1 0 5.8 0M378.9 132.7a2.9 2.9 0 1 0 -5.8 0a2.9 2.9 0 1 0 5.8 0M376.6 133.2a2.9 2.9 0 1 0 -5.8 0a2.9 2.9 0 1 0 5.8 0M376.8 136.4a2.9 2.9 0 1 0 -5.8 0a2.9 2.9 0 1 0 5.8 0M388.1 119.3a2.9 2.9 0 1 0 -5.8 0a2.9 2.9 0 1 0 5.8 0M386.7 125.1a2.9 2.9 0 1 0 -5.8 0a2.9 2.9 0 1 0 5.8 0M389.2 120.9a2.9 2.9 0 1 0 -5.8 0a2.9 2.9 0 1 0 5.8 0M382.8 128.2a2.9 2.9 0 1 0 -5.8 0a2.9 2.9 0 1 0 5.8 0M378.2 133.4a2.9 2.9 0 1 0 -5.8 0a2.9 2.9 0 1 0 5.8 0M387.0 122.6a2.9 2.9 0 1 0 -5.8 0a2.9 2.9 0 1 0 5.8 0M385.5 128.4a2.9 2.9 0 1 0 -5.8 0a2.9 2.9 0 1 0 5.8 0M382.6 131.0a2.9 2.9 0 1 0 -5.8 0a2.9 2.9 0 1 0 5.8 0M380.2 132.4a2.9 2.9 0 1 0 -5.8 0a2.9 2.9 0 1 0 5.8 0M383.1 128.2a2.9 2.9 0 1 0 -5.8 0a2.9 2.9 0 1 0 5.8 0M373.6 135.3a2.9 2.9 0 1 0 -5.8 0a2.9 2.9 0 1 0 5.8 0M385.0 125.4a2.9 2.9 0 1 0 -5.8 0a2.9 2.9 0 1 0 5.8 0M383.8 127.1a2.9 2.9 0 1 0 -5.8 0a2.9 2.9 0 1 0 5.8 0M383.9 125.6a2.9 2.9 0 1 0 -5.8 0a2.9 2.9 0 1 0 5.8 0M379.6 133.3a2.9 2.9 0 1 0 -5.8 0a2.9 2.9 0 1 0 5.8 0M404.6 102.1a2.9 2.9 0 1 0 -5.8 0a2.9 2.9 0 1 0 5.8 0M412.4 94.9a2.9 2.9 0 1 0 -5.8 0a2.9 2.9 0 1 0 5.8 0M392.1 116.6a2.9 2.9 0 1 0 -5.8 0a2.9 2.9 0 1 0 5.8 0M406.3 101.4a2.9 2.9 0 1 0 -5.8 0a2.9 2.9 0 1 0 5.8 0M391.2 118.0a2.9 2.9 0 1 0 -5.8 0a2.9 2.9 0 1 0 5.8 0M407.5 102.0a2.9 2.9 0 1 0 -5.8 0a2.9 2.9 0 1 0 5.8 0M396.5 108.3a2.9 2.9 0 1 0 -5.8 0a2.9 2.9 0 1 0 5.8 0M391.7 120.3a2.9 2.9 0 1 0 -5.8 0a2.9 2.9 0 1 0 5.8 0M398.7 106.5a2.9 2.9 0 1 0 -5.8 0a2.9 2.9 0 1 0 5.8 0M398.5 110.0a2.9 2.9 0 1 0 -5.8 0a2.9 2.9 0 1 0 5.8 0M394.3 113.2a2.9 2.9 0 1 0 -5.8 0a2.9 2.9 0 1 0 5.8 0M406.2 101.1a2.9 2.9 0 1 0 -5.8 0a2.9 2.9 0 1 0 5.8 0M407.7 98.4a2.9 2.9 0 1 0 -5.8 0a2.9 2.9 0 1 0 5.8 0M394.1 112.9a2.9 2.9 0 1 0 -5.8 0a2.9 2.9 0 1 0 5.8 0M401.8 108.0a2.9 2.9 0 1 0 -5.8 0a2.9 2.9 0 1 0 5.8 0M408.9 95.3a2.9 2.9 0 1 0 -5.8 0a2.9 2.9 0 1 0 5.8 0M394.7 112.9a2.9 2.9 0 1 0 -5.8 0a2.9 2.9 0 1 0 5.8 0M389.7 119.3a2.9 2.9 0 1 0 -5.8 0a2.9 2.9 0 1 0 5.8 0M403.2 103.2a2.9 2.9 0 1 0 -5.8 0a2.9 2.9 0 1 0 5.8 0M413.3 96.0a2.9 2.9 0 1 0 -5.8 0a2.9 2.9 0 1 0 5.8 0M408.7 98.4a2.9 2.9 0 1 0 -5.8 0a2.9 2.9 0 1 0 5.8 0M408.8 95.3a2.9 2.9 0 1 0 -5.8 0a2.9 2.9 0 1 0 5.8 0M389.9 119.7a2.9 2.9 0 1 0 -5.8 0a2.9 2.9 0 1 0 5.8 0M390.6 117.9a2.9 2.9 0 1 0 -5.8 0a2.9 2.9 0 1 0 5.8 0M400.1 109.6a2.9 2.9 0 1 0 -5.8 0a2.9 2.9 0 1 0 5.8 0M392.3 120.0a2.9 2.9 0 1 0 -5.8 0a2.9 2.9 0 1 0 5.8 0M398.3 106.7a2.9 2.9 0 1 0 -5.8 0a2.9 2.9 0 1 0 5.8 0M400.4 107.3a2.9 2.9 0 1 0 -5.8 0a2.9 2.9 0 1 0 5.8 0M393.5 115.6a2.9 2.9 0 1 0 -5.8 0a2.9 2.9 0 1 0 5.8 0M403.6 104.6a2.9 2.9 0 1 0 -5.8 0a2.9 2.9 0 1 0 5.8 0M404.4 105.1a2.9 2.9 0 1 0 -5.8 0a2.9 2.9 0 1 0 5.8 0M396.2 109.9a2.9 2.9 0 1 0 -5.8 0a2.9 2.9 0 1 0 5.8 0M398.5 108.7a2.9 2.9 0 1 0 -5.8 0a2.9 2.9 0 1 0 5.8 0M392.2 117.2a2.9 2.9 0 1 0 -5.8 0a2.9 2.9 0 1 0 5.8 0M402.9 107.5a2.9 2.9 0 1 0 -5.8 0a2.9 2.9 0 1 0 5.8 0M392.6 114.4a2.9 2.9 0 1 0 -5.8 0a2.9 2.9 0 1 0 5.8 0M395.5 110.9a2.9 2.9 0 1 0 -5.8 0a2.9 2.9 0 1 0 5.8 0M394.5 113.0a2.9 2.9 0 1 0 -5.8 0a2.9 2.9 0 1 0 5.8 0M398.2 109.5a2.9 2.9 0 1 0 -5.8 0a2.9 2.9 0 1 0 5.8 0M412.0 94.9a2.9 2.9 0 1 0 -5.8 0a2.9 2.9 0 1 0 5.8 0M404.5 102.0a2.9 2.9 0 1 0 -5.8 0a2.9 2.9 0 1 0 5.8 0M402.4 106.9a2.9 2.9 0 1 0 -5.8 0a2.9 2.9 0 1 0 5.8 0M397.7 111.0a2.9 2.9 0 1 0 -5.8 0a2.9 2.9 0 1 0 5.8 0M394.3 113.2a2.9 2.9 0 1 0 -5.8 0a2.9 2.9 0 1 0 5.8 0M395.3 114.6a2.9 2.9 0 1 0 -5.8 0a2.9 2.9 0 1 0 5.8 0M405.5 98.6a2.9 2.9 0 1 0 -5.8 0a2.9 2.9 0 1 0 5.8 0M402.4 103.7a2.9 2.9 0 1 0 -5.8 0a2.9 2.9 0 1 0 5.8 0M400.6 106.9a2.9 2.9 0 1 0 -5.8 0a2.9 2.9 0 1 0 5.8 0M405.4 103.8a2.9 2.9 0 1 0 -5.8 0a2.9 2.9 0 1 0 5.8 0M409.1 96.5a2.9 2.9 0 1 0 -5.8 0a2.9 2.9 0 1 0 5.8 0M394.7 115.4a2.9 2.9 0 1 0 -5.8 0a2.9 2.9 0 1 0 5.8 0M394.1 112.2a2.9 2.9 0 1 0 -5.8 0a2.9 2.9 0 1 0 5.8 0M405.2 102.2a2.9 2.9 0 1 0 -5.8 0a2.9 2.9 0 1 0 5.8 0M398.5 109.1a2.9 2.9 0 1 0 -5.8 0a2.9 2.9 0 1 0 5.8 0M388.4 119.6a2.9 2.9 0 1 0 -5.8 0a2.9 2.9 0 1 0 5.8 0M401.8 108.7a2.9 2.9 0 1 0 -5.8 0a2.9 2.9 0 1 0 5.8 0M409.3 97.0a2.9 2.9 0 1 0 -5.8 0a2.9 2.9 0 1 0 5.8 0M390.6 116.2a2.9 2.9 0 1 0 -5.8 0a2.9 2.9 0 1 0 5.8 0M388.1 120.4a2.9 2.9 0 1 0 -5.8 0a2.9 2.9 0 1 0 5.8 0M410.6 96.5a2.9 2.9 0 1 0 -5.8 0a2.9 2.9 0 1 0 5.8 0M401.0 106.6a2.9 2.9 0 1 0 -5.8 0a2.9 2.9 0 1 0 5.8 0M410.0 97.2a2.9 2.9 0 1 0 -5.8 0a2.9 2.9 0 1 0 5.8 0M406.5 99.7a2.9 2.9 0 1 0 -5.8 0a2.9 2.9 0 1 0 5.8 0M390.3 117.7a2.9 2.9 0 1 0 -5.8 0a2.9 2.9 0 1 0 5.8 0M398.4 106.8a2.9 2.9 0 1 0 -5.8 0a2.9 2.9 0 1 0 5.8 0M398.8 107.6a2.9 2.9 0 1 0 -5.8 0a2.9 2.9 0 1 0 5.8 0M404.7 102.6a2.9 2.9 0 1 0 -5.8 0a2.9 2.9 0 1 0 5.8 0M397.2 108.3a2.9 2.9 0 1 0 -5.8 0a2.9 2.9 0 1 0 5.8 0M405.3 106.0a2.9 2.9 0 1 0 -5.8 0a2.9 2.9 0 1 0 5.8 0M406.9 97.5a2.9 2.9 0 1 0 -5.8 0a2.9 2.9 0 1 0 5.8 0M408.2 99.3a2.9 2.9 0 1 0 -5.8 0a2.9 2.9 0 1 0 5.8 0M390.4 117.2a2.9 2.9 0 1 0 -5.8 0a2.9 2.9 0 1 0 5.8 0M389.7 117.6a2.9 2.9 0 1 0 -5.8 0a2.9 2.9 0 1 0 5.8 0M408.9 98.1a2.9 2.9 0 1 0 -5.8 0a2.9 2.9 0 1 0 5.8 0M393.3 115.9a2.9 2.9 0 1 0 -5.8 0a2.9 2.9 0 1 0 5.8 0M395.1 113.8a2.9 2.9 0 1 0 -5.8 0a2.9 2.9 0 1 0 5.8 0M407.3 102.7a2.9 2.9 0 1 0 -5.8 0a2.9 2.9 0 1 0 5.8 0M394.2 116.4a2.9 2.9 0 1 0 -5.8 0a2.9 2.9 0 1 0 5.8 0M393.3 113.9a2.9 2.9 0 1 0 -5.8 0a2.9 2.9 0 1 0 5.8 0M411.3 94.8a2.9 2.9 0 1 0 -5.8 0a2.9 2.9 0 1 0 5.8 0M401.9 107.0a2.9 2.9 0 1 0 -5.8 0a2.9 2.9 0 1 0 5.8 0M405.9 100.9a2.9 2.9 0 1 0 -5.8 0a2.9 2.9 0 1 0 5.8 0M404.1 102.8a2.9 2.9 0 1 0 -5.8 0a2.9 2.9 0 1 0 5.8 0M391.2 116.9a2.9 2.9 0 1 0 -5.8 0a2.9 2.9 0 1 0 5.8 0M407.5 99.5a2.9 2.9 0 1 0 -5.8 0a2.9 2.9 0 1 0 5.8 0M393.5 115.9a2.9 2.9 0 1 0 -5.8 0a2.9 2.9 0 1 0 5.8 0M395.3 113.9a2.9 2.9 0 1 0 -5.8 0a2.9 2.9 0 1 0 5.8 0M394.2 116.4a2.9 2.9 0 1 0 -5.8 0a2.9 2.9 0 1 0 5.8 0M395.1 112.7a2.9 2.9 0 1 0 -5.8 0a2.9 2.9 0 1 0 5.8 0M398.9 104.9a2.9 2.9 0 1 0 -5.8 0a2.9 2.9 0 1 0 5.8 0M410.5 96.0a2.9 2.9 0 1 0 -5.8 0a2.9 2.9 0 1 0 5.8 0M400.1 105.2a2.9 2.9 0 1 0 -5.8 0a2.9 2.9 0 1 0 5.8 0M410.7 96.7a2.9 2.9 0 1 0 -5.8 0a2.9 2.9 0 1 0 5.8 0M407.1 99.0a2.9 2.9 0 1 0 -5.8 0a2.9 2.9 0 1 0 5.8 0M411.6 96.4a2.9 2.9 0 1 0 -5.8 0a2.9 2.9 0 1 0 5.8 0M389.2 119.5a2.9 2.9 0 1 0 -5.8 0a2.9 2.9 0 1 0 5.8 0M397.5 109.0a2.9 2.9 0 1 0 -5.8 0a2.9 2.9 0 1 0 5.8 0M398.6 109.8a2.9 2.9 0 1 0 -5.8 0a2.9 2.9 0 1 0 5.8 0M401.1 106.3a2.9 2.9 0 1 0 -5.8 0a2.9 2.9 0 1 0 5.8 0M399.6 107.2a2.9 2.9 0 1 0 -5.8 0a2.9 2.9 0 1 0 5.8 0M410.8 94.9a2.9 2.9 0 1 0 -5.8 0a2.9 2.9 0 1 0 5.8 0M407.2 100.8a2.9 2.9 0 1 0 -5.8 0a2.9 2.9 0 1 0 5.8 0M408.5 99.6a2.9 2.9 0 1 0 -5.8 0a2.9 2.9 0 1 0 5.8 0M392.3 116.8a2.9 2.9 0 1 0 -5.8 0a2.9 2.9 0 1 0 5.8 0M404.9 102.8a2.9 2.9 0 1 0 -5.8 0a2.9 2.9 0 1 0 5.8 0M391.1 118.4a2.9 2.9 0 1 0 -5.8 0a2.9 2.9 0 1 0 5.8 0M389.1 117.9a2.9 2.9 0 1 0 -5.8 0a2.9 2.9 0 1 0 5.8 0M401.5 109.0a2.9 2.9 0 1 0 -5.8 0a2.9 2.9 0 1 0 5.8 0M402.4 105.2a2.9 2.9 0 1 0 -5.8 0a2.9 2.9 0 1 0 5.8 0M400.5 108.0a2.9 2.9 0 1 0 -5.8 0a2.9 2.9 0 1 0 5.8 0M397.9 109.2a2.9 2.9 0 1 0 -5.8 0a2.9 2.9 0 1 0 5.8 0M408.6 99.0a2.9 2.9 0 1 0 -5.8 0a2.9 2.9 0 1 0 5.8 0M391.9 119.1a2.9 2.9 0 1 0 -5.8 0a2.9 2.9 0 1 0 5.8 0M390.0 120.7a2.9 2.9 0 1 0 -5.8 0a2.9 2.9 0 1 0 5.8 0M398.2 107.7a2.9 2.9 0 1 0 -5.8 0a2.9 2.9 0 1 0 5.8 0M399.2 108.5a2.9 2.9 0 1 0 -5.8 0a2.9 2.9 0 1 0 5.8 0M412.8 97.2a2.9 2.9 0 1 0 -5.8 0a2.9 2.9 0 1 0 5.8 0M405.1 101.7a2.9 2.9 0 1 0 -5.8 0a2.9 2.9 0 1 0 5.8 0M408.3 99.0a2.9 2.9 0 1 0 -5.8 0a2.9 2.9 0 1 0 5.8 0M402.7 104.1a2.9 2.9 0 1 0 -5.8 0a2.9 2.9 0 1 0 5.8 0M390.2 119.0a2.9 2.9 0 1 0 -5.8 0a2.9 2.9 0 1 0 5.8 0M402.5 105.6a2.9 2.9 0 1 0 -5.8 0a2.9 2.9 0 1 0 5.8 0M405.7 100.4a2.9 2.9 0 1 0 -5.8 0a2.9 2.9 0 1 0 5.8 0M391.5 117.1a2.9 2.9 0 1 0 -5.8 0a2.9 2.9 0 1 0 5.8 0M397.0 109.7a2.9 2.9 0 1 0 -5.8 0a2.9 2.9 0 1 0 5.8 0M399.0 108.9a2.9 2.9 0 1 0 -5.8 0a2.9 2.9 0 1 0 5.8 0M395.6 110.5a2.9 2.9 0 1 0 -5.8 0a2.9 2.9 0 1 0 5.8 0M394.3 113.0a2.9 2.9 0 1 0 -5.8 0a2.9 2.9 0 1 0 5.8 0M398.9 109.0a2.9 2.9 0 1 0 -5.8 0a2.9 2.9 0 1 0 5.8 0M394.4 116.2a2.9 2.9 0 1 0 -5.8 0a2.9 2.9 0 1 0 5.8 0M404.6 105.3a2.9 2.9 0 1 0 -5.8 0a2.9 2.9 0 1 0 5.8 0M387.4 122.0a2.9 2.9 0 1 0 -5.8 0a2.9 2.9 0 1 0 5.8 0M394.6 114.6a2.9 2.9 0 1 0 -5.8 0a2.9 2.9 0 1 0 5.8 0M400.6 108.8a2.9 2.9 0 1 0 -5.8 0a2.9 2.9 0 1 0 5.8 0M401.3 108.2a2.9 2.9 0 1 0 -5.8 0a2.9 2.9 0 1 0 5.8 0M408.8 99.8a2.9 2.9 0 1 0 -5.8 0a2.9 2.9 0 1 0 5.8 0M405.6 99.7a2.9 2.9 0 1 0 -5.8 0a2.9 2.9 0 1 0 5.8 0M391.9 117.6a2.9 2.9 0 1 0 -5.8 0a2.9 2.9 0 1 0 5.8 0M395.4 110.9a2.9 2.9 0 1 0 -5.8 0a2.9 2.9 0 1 0 5.8 0M403.6 105.8a2.9 2.9 0 1 0 -5.8 0a2.9 2.9 0 1 0 5.8 0M389.6 117.7a2.9 2.9 0 1 0 -5.8 0a2.9 2.9 0 1 0 5.8 0M396.6 109.3a2.9 2.9 0 1 0 -5.8 0a2.9 2.9 0 1 0 5.8 0M391.2 116.1a2.9 2.9 0 1 0 -5.8 0a2.9 2.9 0 1 0 5.8 0M410.3 96.6a2.9 2.9 0 1 0 -5.8 0a2.9 2.9 0 1 0 5.8 0M401.2 103.6a2.9 2.9 0 1 0 -5.8 0a2.9 2.9 0 1 0 5.8 0M392.5 116.6a2.9 2.9 0 1 0 -5.8 0a2.9 2.9 0 1 0 5.8 0M392.2 115.0a2.9 2.9 0 1 0 -5.8 0a2.9 2.9 0 1 0 5.8 0M400.3 108.6a2.9 2.9 0 1 0 -5.8 0a2.9 2.9 0 1 0 5.8 0M406.8 102.3a2.9 2.9 0 1 0 -5.8 0a2.9 2.9 0 1 0 5.8 0M400.9 108.2a2.9 2.9 0 1 0 -5.8 0a2.9 2.9 0 1 0 5.8 0M394.0 114.3a2.9 2.9 0 1 0 -5.8 0a2.9 2.9 0 1 0 5.8 0M405.6 102.4a2.9 2.9 0 1 0 -5.8 0a2.9 2.9 0 1 0 5.8 0M406.9 100.0a2.9 2.9 0 1 0 -5.8 0a2.9 2.9 0 1 0 5.8 0M409.9 96.8a2.9 2.9 0 1 0 -5.8 0a2.9 2.9 0 1 0 5.8 0M392.4 117.3a2.9 2.9 0 1 0 -5.8 0a2.9 2.9 0 1 0 5.8 0M390.6 118.2a2.9 2.9 0 1 0 -5.8 0a2.9 2.9 0 1 0 5.8 0M392.1 113.4a2.9 2.9 0 1 0 -5.8 0a2.9 2.9 0 1 0 5.8 0M405.6 100.1a2.9 2.9 0 1 0 -5.8 0a2.9 2.9 0 1 0 5.8 0M406.2 100.0a2.9 2.9 0 1 0 -5.8 0a2.9 2.9 0 1 0 5.8 0M388.9 118.6a2.9 2.9 0 1 0 -5.8 0a2.9 2.9 0 1 0 5.8 0M406.3 96.8a2.9 2.9 0 1 0 -5.8 0a2.9 2.9 0 1 0 5.8 0M408.4 99.0a2.9 2.9 0 1 0 -5.8 0a2.9 2.9 0 1 0 5.8 0M402.8 105.4a2.9 2.9 0 1 0 -5.8 0a2.9 2.9 0 1 0 5.8 0M387.9 120.9a2.9 2.9 0 1 0 -5.8 0a2.9 2.9 0 1 0 5.8 0M400.3 102.8a2.9 2.9 0 1 0 -5.8 0a2.9 2.9 0 1 0 5.8 0M398.0 110.9a2.9 2.9 0 1 0 -5.8 0a2.9 2.9 0 1 0 5.8 0M399.6 107.1a2.9 2.9 0 1 0 -5.8 0a2.9 2.9 0 1 0 5.8 0M405.8 102.1a2.9 2.9 0 1 0 -5.8 0a2.9 2.9 0 1 0 5.8 0M402.8 106.1a2.9 2.9 0 1 0 -5.8 0a2.9 2.9 0 1 0 5.8 0M390.7 117.2a2.9 2.9 0 1 0 -5.8 0a2.9 2.9 0 1 0 5.8 0M391.4 118.4a2.9 2.9 0 1 0 -5.8 0a2.9 2.9 0 1 0 5.8 0M405.2 97.3a2.9 2.9 0 1 0 -5.8 0a2.9 2.9 0 1 0 5.8 0M387.2 121.5a2.9 2.9 0 1 0 -5.8 0a2.9 2.9 0 1 0 5.8 0M401.9 106.4a2.9 2.9 0 1 0 -5.8 0a2.9 2.9 0 1 0 5.8 0M408.7 95.3a2.9 2.9 0 1 0 -5.8 0a2.9 2.9 0 1 0 5.8 0M412.8 95.5a2.9 2.9 0 1 0 -5.8 0a2.9 2.9 0 1 0 5.8 0M402.2 104.0a2.9 2.9 0 1 0 -5.8 0a2.9 2.9 0 1 0 5.8 0M403.7 103.4a2.9 2.9 0 1 0 -5.8 0a2.9 2.9 0 1 0 5.8 0M401.5 105.1a2.9 2.9 0 1 0 -5.8 0a2.9 2.9 0 1 0 5.8 0M409.5 97.8a2.9 2.9 0 1 0 -5.8 0a2.9 2.9 0 1 0 5.8 0M401.8 106.3a2.9 2.9 0 1 0 -5.8 0a2.9 2.9 0 1 0 5.8 0M396.2 112.3a2.9 2.9 0 1 0 -5.8 0a2.9 2.9 0 1 0 5.8 0M399.9 107.7a2.9 2.9 0 1 0 -5.8 0a2.9 2.9 0 1 0 5.8 0M404.3 105.4a2.9 2.9 0 1 0 -5.8 0a2.9 2.9 0 1 0 5.8 0M405.3 102.8a2.9 2.9 0 1 0 -5.8 0a2.9 2.9 0 1 0 5.8 0M410.9 94.5a2.9 2.9 0 1 0 -5.8 0a2.9 2.9 0 1 0 5.8 0M405.8 105.3a2.9 2.9 0 1 0 -5.8 0a2.9 2.9 0 1 0 5.8 0M409.5 98.8a2.9 2.9 0 1 0 -5.8 0a2.9 2.9 0 1 0 5.8 0M404.3 101.4a2.9 2.9 0 1 0 -5.8 0a2.9 2.9 0 1 0 5.8 0M410.3 96.6a2.9 2.9 0 1 0 -5.8 0a2.9 2.9 0 1 0 5.8 0" fill="none" stroke="#3f7bbd" stroke-width="1.0"/></g>
<line x1="41" y1="219" x2="233" y2="9" stroke="#000" stroke-width="1.75"/>
<line x1="295" y1="219" x2="487" y2="9" stroke="#000" stroke-width="1.75"/>
<text x="55" y="30" class="pl">(a)</text>
<text x="310.5" y="32" class="pl">(b)</text>
<text transform="translate(95,242.6) scale(1,1.14)" class="lb"><tspan x="0">Observed</tspan><tspan x="43.0">&#916;</tspan><tspan x="49.6" font-style="italic">Q</tspan><tspan x="57.0" dy="4.0" font-size="8">s</tspan><tspan x="60.6" dy="-4.0">(mm)</tspan></text>
<text transform="translate(348.5,242.6) scale(1,1.14)" class="lb"><tspan x="0">Observed</tspan><tspan x="43.0">&#916;</tspan><tspan x="49.6" font-style="italic">Q</tspan><tspan x="57.0" dy="4.0" font-size="8">b</tspan><tspan x="60.6" dy="-4.0">(mm)</tspan></text>
<text transform="translate(13.4,155.5) rotate(-90) scale(1,1.0)" class="lb"><tspan x="0">Modelled</tspan><tspan x="43.0">&#916;</tspan><tspan x="49.6" font-style="italic">Q</tspan><tspan x="57.0" dy="4.8" font-size="8">s</tspan><tspan x="60.6" dy="-4.8">(mm)</tspan></text>
<text transform="translate(267.4,155.5) rotate(-90) scale(1,1.0)" class="lb"><tspan x="0">Modelled</tspan><tspan x="43.0">&#916;</tspan><tspan x="49.6" font-style="italic">Q</tspan><tspan x="57.0" dy="4.8" font-size="8">b</tspan><tspan x="60.6" dy="-4.8">(mm)</tspan></text>
<rect x="53.5" y="45.5" width="68" height="26" fill="#fff" stroke="#555" stroke-width="0.95"/>
<circle cx="74.9" cy="52.8" r="3.6" fill="none" stroke="#d84a66" stroke-width="0.95"/>
<circle cx="74.9" cy="64.2" r="3.6" fill="none" stroke="#5c95d2" stroke-width="0.95"/>
<text x="95.6" y="56.6" class="lg">China</text>
<text x="95.6" y="68" class="lg">USA</text></g>
</svg></body></html>
